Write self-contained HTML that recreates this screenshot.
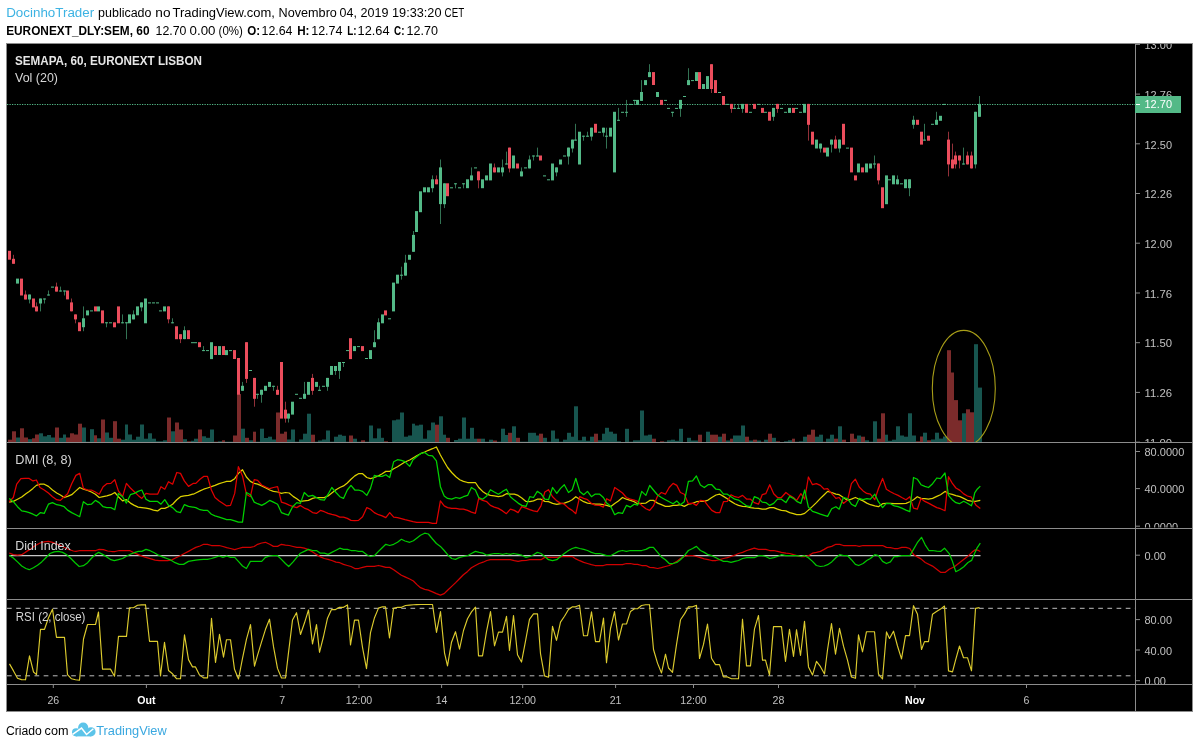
<!DOCTYPE html><html><head><meta charset="utf-8"><title>SEMAPA chart</title><style>html,body{margin:0;padding:0;background:#fff}svg{display:block}</style></head><body><svg width="1199" height="748" viewBox="0 0 1199 748" font-family='"Liberation Sans", Arial, sans-serif'>
<rect width="1199" height="748" fill="#fff"/>
<rect x="6.5" y="43.5" width="1186" height="668" fill="#000" stroke="#8c8c8c" stroke-width="1"/>
<defs><clipPath id="cm"><rect x="7" y="44" width="1128" height="398"/></clipPath><clipPath id="ca"><rect x="1136" y="44" width="56" height="398"/></clipPath><clipPath id="cd"><rect x="1136" y="443" width="56" height="84.6"/></clipPath><clipPath id="cr"><rect x="1136" y="600" width="56" height="84"/></clipPath><clipPath id="cp"><rect x="7" y="600" width="1128" height="84"/></clipPath></defs>
<g clip-path="url(#cm)">
<rect x="8.0" y="439.7" width="4.0" height="2.3" fill="#7b2b2b"/>
<rect x="12.0" y="431.3" width="4.0" height="10.7" fill="#7b2b2b"/>
<rect x="16.0" y="437.5" width="4.0" height="4.5" fill="#17554f"/>
<rect x="20.0" y="428.3" width="4.0" height="13.7" fill="#7b2b2b"/>
<rect x="24.0" y="437.5" width="4.0" height="4.5" fill="#7b2b2b"/>
<rect x="28.0" y="439.2" width="4.0" height="2.8" fill="#17554f"/>
<rect x="32.0" y="438.3" width="3.0" height="3.7" fill="#7b2b2b"/>
<rect x="35.0" y="434.5" width="4.0" height="7.5" fill="#7b2b2b"/>
<rect x="39.0" y="433.3" width="4.0" height="8.7" fill="#17554f"/>
<rect x="43.0" y="436.3" width="4.0" height="5.7" fill="#17554f"/>
<rect x="47.0" y="435.0" width="4.0" height="7.0" fill="#17554f"/>
<rect x="51.0" y="437.5" width="4.0" height="4.5" fill="#17554f"/>
<rect x="55.0" y="427.5" width="4.0" height="14.5" fill="#7b2b2b"/>
<rect x="59.0" y="437.8" width="4.0" height="4.2" fill="#17554f"/>
<rect x="63.0" y="434.5" width="3.0" height="7.5" fill="#17554f"/>
<rect x="66.0" y="437.5" width="4.0" height="4.5" fill="#7b2b2b"/>
<rect x="70.0" y="433.3" width="4.0" height="8.7" fill="#7b2b2b"/>
<rect x="74.0" y="434.5" width="4.0" height="7.5" fill="#7b2b2b"/>
<rect x="78.0" y="423.7" width="4.0" height="18.3" fill="#7b2b2b"/>
<rect x="82.0" y="427.5" width="4.0" height="14.5" fill="#17554f"/>
<rect x="86.0" y="441.7" width="4.0" height="0.3" fill="#17554f"/>
<rect x="90.0" y="429.2" width="4.0" height="12.8" fill="#17554f"/>
<rect x="94.0" y="435.3" width="3.0" height="6.7" fill="#7b2b2b"/>
<rect x="97.0" y="438.3" width="4.0" height="3.7" fill="#17554f"/>
<rect x="101.0" y="419.5" width="4.0" height="22.5" fill="#7b2b2b"/>
<rect x="105.0" y="432.5" width="4.0" height="9.5" fill="#17554f"/>
<rect x="109.0" y="437.8" width="4.0" height="4.2" fill="#17554f"/>
<rect x="113.0" y="421.2" width="4.0" height="20.8" fill="#7b2b2b"/>
<rect x="117.0" y="438.7" width="4.0" height="3.3" fill="#7b2b2b"/>
<rect x="121.0" y="439.7" width="4.0" height="2.3" fill="#17554f"/>
<rect x="125.0" y="424.5" width="3.0" height="17.5" fill="#17554f"/>
<rect x="128.0" y="434.5" width="4.0" height="7.5" fill="#17554f"/>
<rect x="132.0" y="439.7" width="4.0" height="2.3" fill="#17554f"/>
<rect x="136.0" y="436.7" width="4.0" height="5.3" fill="#17554f"/>
<rect x="140.0" y="424.5" width="4.0" height="17.5" fill="#17554f"/>
<rect x="144.0" y="438.7" width="4.0" height="3.3" fill="#17554f"/>
<rect x="148.0" y="433.3" width="4.0" height="8.7" fill="#17554f"/>
<rect x="152.0" y="438.7" width="4.0" height="3.3" fill="#17554f"/>
<rect x="156.0" y="441.3" width="3.0" height="0.7" fill="#17554f"/>
<rect x="159.0" y="441.3" width="4.0" height="0.7" fill="#17554f"/>
<rect x="163.0" y="440.3" width="4.0" height="1.7" fill="#17554f"/>
<rect x="167.0" y="417.5" width="4.0" height="24.5" fill="#7b2b2b"/>
<rect x="171.0" y="431.3" width="4.0" height="10.7" fill="#17554f"/>
<rect x="175.0" y="422.5" width="4.0" height="19.5" fill="#7b2b2b"/>
<rect x="179.0" y="429.5" width="4.0" height="12.5" fill="#7b2b2b"/>
<rect x="183.0" y="439.2" width="4.0" height="2.8" fill="#17554f"/>
<rect x="187.0" y="441.3" width="4.0" height="0.7" fill="#7b2b2b"/>
<rect x="191.0" y="440.8" width="3.0" height="1.2" fill="#17554f"/>
<rect x="194.0" y="438.7" width="4.0" height="3.3" fill="#17554f"/>
<rect x="198.0" y="429.5" width="4.0" height="12.5" fill="#7b2b2b"/>
<rect x="202.0" y="436.3" width="4.0" height="5.7" fill="#17554f"/>
<rect x="206.0" y="437.8" width="4.0" height="4.2" fill="#17554f"/>
<rect x="210.0" y="429.5" width="4.0" height="12.5" fill="#17554f"/>
<rect x="214.0" y="441.7" width="4.0" height="0.3" fill="#7b2b2b"/>
<rect x="218.0" y="441.3" width="4.0" height="0.7" fill="#17554f"/>
<rect x="222.0" y="440.3" width="3.0" height="1.7" fill="#7b2b2b"/>
<rect x="225.0" y="441.7" width="4.0" height="0.3" fill="#17554f"/>
<rect x="229.0" y="441.7" width="4.0" height="0.3" fill="#17554f"/>
<rect x="233.0" y="435.5" width="4.0" height="6.5" fill="#7b2b2b"/>
<rect x="237.0" y="394.0" width="4.0" height="48.0" fill="#7b2b2b"/>
<rect x="241.0" y="428.7" width="4.0" height="13.3" fill="#17554f"/>
<rect x="245.0" y="437.8" width="4.0" height="4.2" fill="#7b2b2b"/>
<rect x="249.0" y="440.3" width="4.0" height="1.7" fill="#17554f"/>
<rect x="253.0" y="431.7" width="3.0" height="10.3" fill="#7b2b2b"/>
<rect x="256.0" y="441.7" width="4.0" height="0.3" fill="#17554f"/>
<rect x="260.0" y="428.7" width="4.0" height="13.3" fill="#17554f"/>
<rect x="264.0" y="438.0" width="4.0" height="4.0" fill="#17554f"/>
<rect x="268.0" y="436.7" width="4.0" height="5.3" fill="#17554f"/>
<rect x="272.0" y="439.5" width="4.0" height="2.5" fill="#17554f"/>
<rect x="276.0" y="412.5" width="4.0" height="29.5" fill="#7b2b2b"/>
<rect x="280.0" y="433.7" width="4.0" height="8.3" fill="#7b2b2b"/>
<rect x="284.0" y="431.7" width="3.0" height="10.3" fill="#7b2b2b"/>
<rect x="287.0" y="439.5" width="4.0" height="2.5" fill="#17554f"/>
<rect x="291.0" y="429.5" width="4.0" height="12.5" fill="#17554f"/>
<rect x="295.0" y="441.7" width="4.0" height="0.3" fill="#17554f"/>
<rect x="299.0" y="439.5" width="4.0" height="2.5" fill="#17554f"/>
<rect x="303.0" y="433.7" width="4.0" height="8.3" fill="#17554f"/>
<rect x="307.0" y="413.7" width="4.0" height="28.3" fill="#17554f"/>
<rect x="311.0" y="434.7" width="4.0" height="7.3" fill="#7b2b2b"/>
<rect x="315.0" y="441.7" width="3.0" height="0.3" fill="#17554f"/>
<rect x="318.0" y="440.5" width="4.0" height="1.5" fill="#17554f"/>
<rect x="322.0" y="439.5" width="4.0" height="2.5" fill="#17554f"/>
<rect x="326.0" y="430.5" width="4.0" height="11.5" fill="#17554f"/>
<rect x="330.0" y="441.7" width="4.0" height="0.3" fill="#17554f"/>
<rect x="334.0" y="436.7" width="4.0" height="5.3" fill="#17554f"/>
<rect x="338.0" y="434.7" width="4.0" height="7.3" fill="#17554f"/>
<rect x="342.0" y="435.8" width="4.0" height="6.2" fill="#17554f"/>
<rect x="346.0" y="441.7" width="3.0" height="0.3" fill="#17554f"/>
<rect x="349.0" y="435.5" width="4.0" height="6.5" fill="#7b2b2b"/>
<rect x="353.0" y="438.7" width="4.0" height="3.3" fill="#17554f"/>
<rect x="357.0" y="441.7" width="4.0" height="0.3" fill="#17554f"/>
<rect x="361.0" y="440.3" width="4.0" height="1.7" fill="#7b2b2b"/>
<rect x="365.0" y="441.7" width="4.0" height="0.3" fill="#17554f"/>
<rect x="369.0" y="425.5" width="4.0" height="16.5" fill="#17554f"/>
<rect x="373.0" y="438.3" width="4.0" height="3.7" fill="#17554f"/>
<rect x="377.0" y="428.5" width="4.0" height="13.5" fill="#17554f"/>
<rect x="381.0" y="437.8" width="3.0" height="4.2" fill="#17554f"/>
<rect x="384.0" y="441.3" width="4.0" height="0.7" fill="#7b2b2b"/>
<rect x="392.0" y="420.3" width="4.0" height="21.7" fill="#17554f"/>
<rect x="396.0" y="419.5" width="4.0" height="22.5" fill="#17554f"/>
<rect x="400.0" y="412.5" width="4.0" height="29.5" fill="#17554f"/>
<rect x="404.0" y="436.7" width="4.0" height="5.3" fill="#17554f"/>
<rect x="408.0" y="435.5" width="4.0" height="6.5" fill="#17554f"/>
<rect x="412.0" y="423.7" width="3.0" height="18.3" fill="#17554f"/>
<rect x="415.0" y="425.5" width="4.0" height="16.5" fill="#17554f"/>
<rect x="419.0" y="424.7" width="4.0" height="17.3" fill="#17554f"/>
<rect x="423.0" y="438.7" width="4.0" height="3.3" fill="#17554f"/>
<rect x="427.0" y="430.3" width="4.0" height="11.7" fill="#17554f"/>
<rect x="431.0" y="422.5" width="4.0" height="19.5" fill="#17554f"/>
<rect x="435.0" y="424.7" width="4.0" height="17.3" fill="#7b2b2b"/>
<rect x="439.0" y="416.3" width="4.0" height="25.7" fill="#17554f"/>
<rect x="443.0" y="434.7" width="3.0" height="7.3" fill="#17554f"/>
<rect x="446.0" y="437.8" width="4.0" height="4.2" fill="#7b2b2b"/>
<rect x="454.0" y="440.0" width="4.0" height="2.0" fill="#17554f"/>
<rect x="458.0" y="438.7" width="4.0" height="3.3" fill="#17554f"/>
<rect x="462.0" y="417.5" width="4.0" height="24.5" fill="#17554f"/>
<rect x="466.0" y="438.7" width="4.0" height="3.3" fill="#17554f"/>
<rect x="470.0" y="427.8" width="4.0" height="14.2" fill="#17554f"/>
<rect x="474.0" y="438.7" width="3.0" height="3.3" fill="#17554f"/>
<rect x="477.0" y="438.7" width="4.0" height="3.3" fill="#7b2b2b"/>
<rect x="481.0" y="438.7" width="4.0" height="3.3" fill="#17554f"/>
<rect x="485.0" y="441.7" width="4.0" height="0.3" fill="#17554f"/>
<rect x="489.0" y="439.7" width="4.0" height="2.3" fill="#17554f"/>
<rect x="493.0" y="440.5" width="4.0" height="1.5" fill="#7b2b2b"/>
<rect x="497.0" y="441.7" width="4.0" height="0.3" fill="#17554f"/>
<rect x="501.0" y="428.7" width="4.0" height="13.3" fill="#17554f"/>
<rect x="505.0" y="435.0" width="3.0" height="7.0" fill="#17554f"/>
<rect x="508.0" y="432.8" width="4.0" height="9.2" fill="#7b2b2b"/>
<rect x="512.0" y="426.3" width="4.0" height="15.7" fill="#17554f"/>
<rect x="516.0" y="437.8" width="4.0" height="4.2" fill="#7b2b2b"/>
<rect x="520.0" y="441.7" width="4.0" height="0.3" fill="#17554f"/>
<rect x="524.0" y="441.7" width="4.0" height="0.3" fill="#17554f"/>
<rect x="528.0" y="432.8" width="4.0" height="9.2" fill="#17554f"/>
<rect x="532.0" y="432.8" width="4.0" height="9.2" fill="#17554f"/>
<rect x="536.0" y="435.5" width="3.0" height="6.5" fill="#17554f"/>
<rect x="539.0" y="433.7" width="4.0" height="8.3" fill="#7b2b2b"/>
<rect x="543.0" y="437.8" width="4.0" height="4.2" fill="#17554f"/>
<rect x="547.0" y="441.7" width="4.0" height="0.3" fill="#17554f"/>
<rect x="551.0" y="430.5" width="4.0" height="11.5" fill="#17554f"/>
<rect x="555.0" y="438.7" width="4.0" height="3.3" fill="#17554f"/>
<rect x="559.0" y="441.7" width="4.0" height="0.3" fill="#17554f"/>
<rect x="563.0" y="439.7" width="4.0" height="2.3" fill="#17554f"/>
<rect x="567.0" y="432.8" width="4.0" height="9.2" fill="#17554f"/>
<rect x="571.0" y="436.7" width="3.0" height="5.3" fill="#17554f"/>
<rect x="574.0" y="406.3" width="4.0" height="35.7" fill="#17554f"/>
<rect x="578.0" y="440.3" width="4.0" height="1.7" fill="#17554f"/>
<rect x="582.0" y="436.7" width="4.0" height="5.3" fill="#17554f"/>
<rect x="586.0" y="440.8" width="4.0" height="1.2" fill="#17554f"/>
<rect x="590.0" y="436.7" width="4.0" height="5.3" fill="#17554f"/>
<rect x="594.0" y="433.7" width="4.0" height="8.3" fill="#7b2b2b"/>
<rect x="598.0" y="440.3" width="4.0" height="1.7" fill="#17554f"/>
<rect x="602.0" y="433.7" width="3.0" height="8.3" fill="#17554f"/>
<rect x="605.0" y="427.8" width="4.0" height="14.2" fill="#17554f"/>
<rect x="609.0" y="431.7" width="4.0" height="10.3" fill="#17554f"/>
<rect x="613.0" y="433.7" width="4.0" height="8.3" fill="#17554f"/>
<rect x="617.0" y="441.3" width="4.0" height="0.7" fill="#17554f"/>
<rect x="625.0" y="428.8" width="4.0" height="13.2" fill="#17554f"/>
<rect x="629.0" y="441.7" width="4.0" height="0.3" fill="#17554f"/>
<rect x="633.0" y="440.3" width="3.0" height="1.7" fill="#17554f"/>
<rect x="636.0" y="440.3" width="4.0" height="1.7" fill="#17554f"/>
<rect x="640.0" y="410.5" width="4.0" height="31.5" fill="#17554f"/>
<rect x="644.0" y="435.5" width="4.0" height="6.5" fill="#17554f"/>
<rect x="648.0" y="434.7" width="4.0" height="7.3" fill="#17554f"/>
<rect x="652.0" y="438.7" width="4.0" height="3.3" fill="#7b2b2b"/>
<rect x="660.0" y="441.3" width="4.0" height="0.7" fill="#7b2b2b"/>
<rect x="664.0" y="441.7" width="3.0" height="0.3" fill="#17554f"/>
<rect x="667.0" y="440.3" width="4.0" height="1.7" fill="#17554f"/>
<rect x="671.0" y="439.7" width="4.0" height="2.3" fill="#17554f"/>
<rect x="675.0" y="440.8" width="4.0" height="1.2" fill="#17554f"/>
<rect x="679.0" y="428.8" width="4.0" height="13.2" fill="#17554f"/>
<rect x="687.0" y="437.8" width="4.0" height="4.2" fill="#17554f"/>
<rect x="691.0" y="440.5" width="4.0" height="1.5" fill="#17554f"/>
<rect x="695.0" y="440.5" width="3.0" height="1.5" fill="#17554f"/>
<rect x="698.0" y="434.7" width="4.0" height="7.3" fill="#7b2b2b"/>
<rect x="706.0" y="431.7" width="4.0" height="10.3" fill="#17554f"/>
<rect x="710.0" y="434.7" width="4.0" height="7.3" fill="#7b2b2b"/>
<rect x="714.0" y="434.7" width="4.0" height="7.3" fill="#7b2b2b"/>
<rect x="718.0" y="436.7" width="4.0" height="5.3" fill="#17554f"/>
<rect x="722.0" y="433.7" width="4.0" height="8.3" fill="#7b2b2b"/>
<rect x="726.0" y="440.5" width="4.0" height="1.5" fill="#17554f"/>
<rect x="730.0" y="438.7" width="3.0" height="3.3" fill="#7b2b2b"/>
<rect x="733.0" y="435.5" width="4.0" height="6.5" fill="#17554f"/>
<rect x="737.0" y="435.5" width="4.0" height="6.5" fill="#17554f"/>
<rect x="741.0" y="425.5" width="4.0" height="16.5" fill="#17554f"/>
<rect x="745.0" y="436.7" width="4.0" height="5.3" fill="#7b2b2b"/>
<rect x="749.0" y="440.5" width="4.0" height="1.5" fill="#17554f"/>
<rect x="753.0" y="439.7" width="4.0" height="2.3" fill="#7b2b2b"/>
<rect x="757.0" y="440.5" width="4.0" height="1.5" fill="#17554f"/>
<rect x="761.0" y="441.7" width="3.0" height="0.3" fill="#7b2b2b"/>
<rect x="764.0" y="439.7" width="4.0" height="2.3" fill="#17554f"/>
<rect x="768.0" y="433.7" width="4.0" height="8.3" fill="#7b2b2b"/>
<rect x="772.0" y="437.8" width="4.0" height="4.2" fill="#17554f"/>
<rect x="776.0" y="441.3" width="4.0" height="0.7" fill="#7b2b2b"/>
<rect x="784.0" y="441.3" width="4.0" height="0.7" fill="#17554f"/>
<rect x="788.0" y="440.3" width="4.0" height="1.7" fill="#17554f"/>
<rect x="792.0" y="438.7" width="3.0" height="3.3" fill="#7b2b2b"/>
<rect x="795.0" y="441.7" width="4.0" height="0.3" fill="#17554f"/>
<rect x="799.0" y="441.3" width="4.0" height="0.7" fill="#17554f"/>
<rect x="803.0" y="436.7" width="4.0" height="5.3" fill="#17554f"/>
<rect x="807.0" y="434.7" width="4.0" height="7.3" fill="#7b2b2b"/>
<rect x="811.0" y="429.7" width="4.0" height="12.3" fill="#7b2b2b"/>
<rect x="815.0" y="436.7" width="4.0" height="5.3" fill="#17554f"/>
<rect x="819.0" y="434.7" width="4.0" height="7.3" fill="#17554f"/>
<rect x="823.0" y="441.7" width="3.0" height="0.3" fill="#7b2b2b"/>
<rect x="826.0" y="438.7" width="4.0" height="3.3" fill="#17554f"/>
<rect x="830.0" y="434.7" width="4.0" height="7.3" fill="#17554f"/>
<rect x="834.0" y="438.7" width="4.0" height="3.3" fill="#7b2b2b"/>
<rect x="838.0" y="426.3" width="4.0" height="15.7" fill="#17554f"/>
<rect x="842.0" y="439.7" width="4.0" height="2.3" fill="#7b2b2b"/>
<rect x="850.0" y="433.7" width="4.0" height="8.3" fill="#7b2b2b"/>
<rect x="854.0" y="438.7" width="3.0" height="3.3" fill="#7b2b2b"/>
<rect x="857.0" y="435.5" width="4.0" height="6.5" fill="#17554f"/>
<rect x="861.0" y="436.7" width="4.0" height="5.3" fill="#7b2b2b"/>
<rect x="865.0" y="440.3" width="4.0" height="1.7" fill="#17554f"/>
<rect x="869.0" y="441.7" width="4.0" height="0.3" fill="#17554f"/>
<rect x="873.0" y="421.3" width="4.0" height="20.7" fill="#17554f"/>
<rect x="877.0" y="438.7" width="4.0" height="3.3" fill="#7b2b2b"/>
<rect x="881.0" y="413.3" width="4.0" height="28.7" fill="#7b2b2b"/>
<rect x="885.0" y="434.7" width="3.0" height="7.3" fill="#17554f"/>
<rect x="888.0" y="440.8" width="4.0" height="1.2" fill="#17554f"/>
<rect x="892.0" y="439.7" width="4.0" height="2.3" fill="#17554f"/>
<rect x="896.0" y="426.3" width="4.0" height="15.7" fill="#17554f"/>
<rect x="900.0" y="435.5" width="4.0" height="6.5" fill="#17554f"/>
<rect x="904.0" y="436.7" width="4.0" height="5.3" fill="#17554f"/>
<rect x="908.0" y="413.3" width="4.0" height="28.7" fill="#17554f"/>
<rect x="912.0" y="435.5" width="4.0" height="6.5" fill="#17554f"/>
<rect x="916.0" y="441.3" width="4.0" height="0.7" fill="#7b2b2b"/>
<rect x="920.0" y="436.5" width="3.0" height="5.5" fill="#7b2b2b"/>
<rect x="923.0" y="432.7" width="4.0" height="9.3" fill="#17554f"/>
<rect x="927.0" y="440.3" width="4.0" height="1.7" fill="#7b2b2b"/>
<rect x="931.0" y="439.5" width="4.0" height="2.5" fill="#17554f"/>
<rect x="935.0" y="432.7" width="4.0" height="9.3" fill="#17554f"/>
<rect x="939.0" y="438.6" width="4.0" height="3.4" fill="#17554f"/>
<rect x="943.0" y="436.5" width="4.0" height="5.5" fill="#17554f"/>
<rect x="947.0" y="350.2" width="4.0" height="91.8" fill="#7b2b2b"/>
<rect x="951.0" y="372.5" width="3.0" height="69.5" fill="#7b2b2b"/>
<rect x="954.0" y="400.1" width="4.0" height="41.9" fill="#7b2b2b"/>
<rect x="958.0" y="420.3" width="4.0" height="21.7" fill="#7b2b2b"/>
<rect x="962.0" y="413.3" width="4.0" height="28.7" fill="#17554f"/>
<rect x="966.0" y="409.3" width="4.0" height="32.7" fill="#7b2b2b"/>
<rect x="970.0" y="412.3" width="4.0" height="29.7" fill="#7b2b2b"/>
<rect x="974.0" y="344.2" width="4.0" height="97.8" fill="#17554f"/>
<rect x="978.0" y="387.6" width="4.0" height="54.4" fill="#17554f"/>
</g>
<line x1="7" y1="104.5" x2="1135" y2="104.5" stroke="#53b987" stroke-width="1" stroke-dasharray="1.25 1.25"/>
<g clip-path="url(#cm)">
<rect x="8.0" y="250.8" width="3" height="8.9" fill="#eb4d5c"/>
<rect x="13.0" y="254.8" width="1" height="8.9" fill="#eb4d5c" opacity="0.62"/>
<rect x="12.0" y="258.8" width="3" height="5.0" fill="#eb4d5c"/>
<rect x="16.0" y="278.6" width="3" height="5.0" fill="#53b987"/>
<rect x="20.0" y="278.6" width="3" height="16.9" fill="#eb4d5c"/>
<rect x="25.0" y="290.5" width="1" height="8.9" fill="#eb4d5c" opacity="0.62"/>
<rect x="24.0" y="294.5" width="3" height="5.0" fill="#eb4d5c"/>
<rect x="29.0" y="294.5" width="1" height="8.9" fill="#53b987" opacity="0.62"/>
<rect x="28.0" y="294.5" width="3" height="5.0" fill="#53b987"/>
<rect x="32.0" y="298.5" width="3" height="8.9" fill="#eb4d5c"/>
<rect x="36.0" y="302.4" width="1" height="8.9" fill="#eb4d5c" opacity="0.62"/>
<rect x="35.0" y="306.4" width="3" height="5.0" fill="#eb4d5c"/>
<rect x="40.0" y="298.5" width="1" height="12.9" fill="#53b987" opacity="0.62"/>
<rect x="39.0" y="298.5" width="3" height="5.0" fill="#53b987"/>
<rect x="44.0" y="298.5" width="1" height="5.0" fill="#53b987" opacity="0.62"/>
<rect x="43.0" y="298.5" width="3" height="1.0" fill="#53b987"/>
<rect x="48.0" y="290.5" width="1" height="5.0" fill="#53b987" opacity="0.62"/>
<rect x="47.0" y="294.5" width="3" height="1.0" fill="#53b987"/>
<rect x="51.0" y="286.6" width="3" height="1.0" fill="#53b987"/>
<rect x="56.0" y="282.6" width="1" height="8.9" fill="#eb4d5c" opacity="0.62"/>
<rect x="55.0" y="286.6" width="3" height="5.0" fill="#eb4d5c"/>
<rect x="60.0" y="286.6" width="1" height="5.0" fill="#53b987" opacity="0.62"/>
<rect x="59.0" y="290.5" width="3" height="1.0" fill="#53b987"/>
<rect x="64.0" y="290.5" width="1" height="5.0" fill="#53b987" opacity="0.62"/>
<rect x="63.0" y="290.5" width="3" height="1.0" fill="#53b987"/>
<rect x="66.0" y="290.5" width="3" height="8.9" fill="#eb4d5c"/>
<rect x="71.0" y="298.5" width="1" height="12.9" fill="#eb4d5c" opacity="0.62"/>
<rect x="70.0" y="302.4" width="3" height="8.9" fill="#eb4d5c"/>
<rect x="75.0" y="314.4" width="1" height="8.9" fill="#eb4d5c" opacity="0.62"/>
<rect x="74.0" y="314.4" width="3" height="5.0" fill="#eb4d5c"/>
<rect x="78.0" y="322.3" width="3" height="8.9" fill="#eb4d5c"/>
<rect x="83.0" y="306.4" width="1" height="24.8" fill="#53b987" opacity="0.62"/>
<rect x="82.0" y="318.3" width="3" height="8.9" fill="#53b987"/>
<rect x="86.0" y="310.4" width="3" height="5.0" fill="#53b987"/>
<rect x="90.0" y="310.4" width="3" height="1.0" fill="#53b987"/>
<rect x="94.0" y="306.4" width="3" height="5.0" fill="#eb4d5c"/>
<rect x="97.0" y="306.4" width="3" height="5.0" fill="#53b987"/>
<rect x="101.0" y="310.4" width="3" height="12.9" fill="#eb4d5c"/>
<rect x="106.0" y="322.3" width="1" height="5.0" fill="#53b987" opacity="0.62"/>
<rect x="105.0" y="322.3" width="3" height="1.0" fill="#53b987"/>
<rect x="109.0" y="322.3" width="3" height="1.0" fill="#53b987"/>
<rect x="113.0" y="322.3" width="3" height="5.0" fill="#eb4d5c"/>
<rect x="117.0" y="306.4" width="3" height="16.9" fill="#eb4d5c"/>
<rect x="122.0" y="314.4" width="1" height="8.9" fill="#53b987" opacity="0.62"/>
<rect x="121.0" y="322.3" width="3" height="1.0" fill="#53b987"/>
<rect x="126.0" y="322.3" width="1" height="16.9" fill="#53b987" opacity="0.62"/>
<rect x="125.0" y="322.3" width="3" height="1.0" fill="#53b987"/>
<rect x="128.0" y="314.4" width="3" height="8.9" fill="#53b987"/>
<rect x="133.0" y="310.4" width="1" height="8.9" fill="#53b987" opacity="0.62"/>
<rect x="132.0" y="314.4" width="3" height="5.0" fill="#53b987"/>
<rect x="136.0" y="306.4" width="3" height="8.9" fill="#53b987"/>
<rect x="141.0" y="302.4" width="1" height="8.9" fill="#53b987" opacity="0.62"/>
<rect x="140.0" y="302.4" width="3" height="5.0" fill="#53b987"/>
<rect x="144.0" y="298.5" width="3" height="24.8" fill="#53b987"/>
<rect x="148.0" y="302.4" width="3" height="1.0" fill="#53b987"/>
<rect x="152.0" y="302.4" width="3" height="1.0" fill="#53b987"/>
<rect x="156.0" y="302.4" width="3" height="1.0" fill="#53b987"/>
<rect x="159.0" y="310.4" width="3" height="1.0" fill="#53b987"/>
<rect x="163.0" y="306.4" width="3" height="5.0" fill="#53b987"/>
<rect x="168.0" y="306.4" width="1" height="16.9" fill="#eb4d5c" opacity="0.62"/>
<rect x="167.0" y="306.4" width="3" height="12.9" fill="#eb4d5c"/>
<rect x="172.0" y="318.3" width="1" height="5.0" fill="#53b987" opacity="0.62"/>
<rect x="171.0" y="322.3" width="3" height="1.0" fill="#53b987"/>
<rect x="175.0" y="326.3" width="3" height="12.9" fill="#eb4d5c"/>
<rect x="180.0" y="334.2" width="1" height="8.9" fill="#eb4d5c" opacity="0.62"/>
<rect x="179.0" y="334.2" width="3" height="5.0" fill="#eb4d5c"/>
<rect x="184.0" y="326.3" width="1" height="12.9" fill="#53b987" opacity="0.62"/>
<rect x="183.0" y="330.2" width="3" height="8.9" fill="#53b987"/>
<rect x="187.0" y="330.2" width="3" height="8.9" fill="#eb4d5c"/>
<rect x="191.0" y="342.2" width="3" height="1.0" fill="#53b987"/>
<rect x="194.0" y="342.2" width="3" height="1.0" fill="#53b987"/>
<rect x="198.0" y="342.2" width="3" height="5.0" fill="#eb4d5c"/>
<rect x="203.0" y="346.1" width="1" height="5.0" fill="#53b987" opacity="0.62"/>
<rect x="202.0" y="350.1" width="3" height="1.0" fill="#53b987"/>
<rect x="206.0" y="350.1" width="3" height="1.0" fill="#53b987"/>
<rect x="210.0" y="342.2" width="3" height="16.9" fill="#53b987"/>
<rect x="214.0" y="346.1" width="3" height="8.9" fill="#eb4d5c"/>
<rect x="218.0" y="346.1" width="3" height="8.9" fill="#53b987"/>
<rect x="222.0" y="346.1" width="3" height="8.9" fill="#eb4d5c"/>
<rect x="225.0" y="350.1" width="3" height="5.0" fill="#53b987"/>
<rect x="229.0" y="350.1" width="3" height="1.0" fill="#53b987"/>
<rect x="233.0" y="350.1" width="3" height="8.9" fill="#eb4d5c"/>
<rect x="237.0" y="358.0" width="3" height="36.7" fill="#eb4d5c"/>
<rect x="242.0" y="381.9" width="1" height="8.9" fill="#53b987" opacity="0.62"/>
<rect x="241.0" y="385.8" width="3" height="5.0" fill="#53b987"/>
<rect x="246.0" y="342.2" width="1" height="40.7" fill="#eb4d5c" opacity="0.62"/>
<rect x="245.0" y="342.2" width="3" height="36.7" fill="#eb4d5c"/>
<rect x="249.0" y="370.0" width="3" height="1.0" fill="#53b987"/>
<rect x="254.0" y="377.9" width="1" height="28.8" fill="#eb4d5c" opacity="0.62"/>
<rect x="253.0" y="377.9" width="3" height="20.9" fill="#eb4d5c"/>
<rect x="257.0" y="393.8" width="1" height="5.0" fill="#53b987" opacity="0.62"/>
<rect x="256.0" y="393.8" width="3" height="1.0" fill="#53b987"/>
<rect x="261.0" y="389.8" width="1" height="12.9" fill="#53b987" opacity="0.62"/>
<rect x="260.0" y="389.8" width="3" height="5.0" fill="#53b987"/>
<rect x="264.0" y="385.8" width="3" height="5.0" fill="#53b987"/>
<rect x="268.0" y="381.9" width="3" height="5.0" fill="#53b987"/>
<rect x="273.0" y="385.8" width="1" height="5.0" fill="#53b987" opacity="0.62"/>
<rect x="272.0" y="385.8" width="3" height="1.0" fill="#53b987"/>
<rect x="277.0" y="385.8" width="1" height="8.9" fill="#eb4d5c" opacity="0.62"/>
<rect x="276.0" y="389.8" width="3" height="5.0" fill="#eb4d5c"/>
<rect x="280.0" y="362.0" width="3" height="56.6" fill="#eb4d5c"/>
<rect x="285.0" y="401.7" width="1" height="20.9" fill="#eb4d5c" opacity="0.62"/>
<rect x="284.0" y="409.7" width="3" height="8.9" fill="#eb4d5c"/>
<rect x="288.0" y="413.6" width="1" height="8.9" fill="#53b987" opacity="0.62"/>
<rect x="287.0" y="413.6" width="3" height="5.0" fill="#53b987"/>
<rect x="291.0" y="401.7" width="3" height="12.9" fill="#53b987"/>
<rect x="295.0" y="393.8" width="3" height="1.0" fill="#53b987"/>
<rect x="299.0" y="397.8" width="3" height="1.0" fill="#53b987"/>
<rect x="304.0" y="381.9" width="1" height="16.9" fill="#53b987" opacity="0.62"/>
<rect x="303.0" y="393.8" width="3" height="5.0" fill="#53b987"/>
<rect x="307.0" y="381.9" width="3" height="12.9" fill="#53b987"/>
<rect x="312.0" y="373.9" width="1" height="20.9" fill="#eb4d5c" opacity="0.62"/>
<rect x="311.0" y="377.9" width="3" height="12.9" fill="#eb4d5c"/>
<rect x="315.0" y="381.9" width="3" height="5.0" fill="#53b987"/>
<rect x="319.0" y="385.8" width="1" height="5.0" fill="#53b987" opacity="0.62"/>
<rect x="318.0" y="389.8" width="3" height="1.0" fill="#53b987"/>
<rect x="322.0" y="385.8" width="3" height="1.0" fill="#53b987"/>
<rect x="327.0" y="377.9" width="1" height="12.9" fill="#53b987" opacity="0.62"/>
<rect x="326.0" y="377.9" width="3" height="8.9" fill="#53b987"/>
<rect x="330.0" y="366.0" width="3" height="8.9" fill="#53b987"/>
<rect x="335.0" y="366.0" width="1" height="8.9" fill="#53b987" opacity="0.62"/>
<rect x="334.0" y="366.0" width="3" height="5.0" fill="#53b987"/>
<rect x="339.0" y="362.0" width="1" height="16.9" fill="#53b987" opacity="0.62"/>
<rect x="338.0" y="362.0" width="3" height="8.9" fill="#53b987"/>
<rect x="343.0" y="362.0" width="1" height="5.0" fill="#53b987" opacity="0.62"/>
<rect x="342.0" y="362.0" width="3" height="1.0" fill="#53b987"/>
<rect x="346.0" y="350.1" width="3" height="1.0" fill="#53b987"/>
<rect x="349.0" y="338.2" width="3" height="20.9" fill="#eb4d5c"/>
<rect x="353.0" y="346.1" width="3" height="5.0" fill="#53b987"/>
<rect x="357.0" y="346.1" width="3" height="1.0" fill="#53b987"/>
<rect x="361.0" y="346.1" width="3" height="5.0" fill="#eb4d5c"/>
<rect x="365.0" y="358.0" width="3" height="1.0" fill="#53b987"/>
<rect x="369.0" y="350.1" width="3" height="8.9" fill="#53b987"/>
<rect x="374.0" y="330.2" width="1" height="16.9" fill="#53b987" opacity="0.62"/>
<rect x="373.0" y="342.2" width="3" height="5.0" fill="#53b987"/>
<rect x="378.0" y="318.3" width="1" height="20.9" fill="#53b987" opacity="0.62"/>
<rect x="377.0" y="322.3" width="3" height="16.9" fill="#53b987"/>
<rect x="381.0" y="314.4" width="3" height="8.9" fill="#53b987"/>
<rect x="384.0" y="310.4" width="3" height="5.0" fill="#eb4d5c"/>
<rect x="388.0" y="318.3" width="3" height="1.0" fill="#53b987"/>
<rect x="392.0" y="282.6" width="3" height="28.8" fill="#53b987"/>
<rect x="396.0" y="274.7" width="3" height="8.9" fill="#53b987"/>
<rect x="401.0" y="266.7" width="1" height="12.9" fill="#53b987" opacity="0.62"/>
<rect x="400.0" y="274.7" width="3" height="1.0" fill="#53b987"/>
<rect x="405.0" y="254.8" width="1" height="20.9" fill="#53b987" opacity="0.62"/>
<rect x="404.0" y="262.7" width="3" height="12.9" fill="#53b987"/>
<rect x="408.0" y="254.8" width="3" height="5.0" fill="#53b987"/>
<rect x="413.0" y="231.0" width="1" height="20.9" fill="#53b987" opacity="0.62"/>
<rect x="412.0" y="234.9" width="3" height="16.9" fill="#53b987"/>
<rect x="415.0" y="211.1" width="3" height="20.9" fill="#53b987"/>
<rect x="419.0" y="191.3" width="3" height="20.9" fill="#53b987"/>
<rect x="423.0" y="187.3" width="3" height="5.0" fill="#53b987"/>
<rect x="427.0" y="187.3" width="3" height="5.0" fill="#53b987"/>
<rect x="432.0" y="175.4" width="1" height="16.9" fill="#53b987" opacity="0.62"/>
<rect x="431.0" y="179.3" width="3" height="8.9" fill="#53b987"/>
<rect x="436.0" y="175.4" width="1" height="8.9" fill="#eb4d5c" opacity="0.62"/>
<rect x="435.0" y="179.3" width="3" height="5.0" fill="#eb4d5c"/>
<rect x="440.0" y="159.5" width="1" height="64.5" fill="#53b987" opacity="0.62"/>
<rect x="439.0" y="167.4" width="3" height="36.7" fill="#53b987"/>
<rect x="444.0" y="183.3" width="1" height="24.8" fill="#53b987" opacity="0.62"/>
<rect x="443.0" y="183.3" width="3" height="20.9" fill="#53b987"/>
<rect x="446.0" y="183.3" width="3" height="12.9" fill="#eb4d5c"/>
<rect x="450.0" y="187.3" width="3" height="1.0" fill="#53b987"/>
<rect x="455.0" y="183.3" width="1" height="5.0" fill="#53b987" opacity="0.62"/>
<rect x="454.0" y="183.3" width="3" height="1.0" fill="#53b987"/>
<rect x="458.0" y="187.3" width="3" height="1.0" fill="#53b987"/>
<rect x="463.0" y="183.3" width="1" height="5.0" fill="#53b987" opacity="0.62"/>
<rect x="462.0" y="183.3" width="3" height="1.0" fill="#53b987"/>
<rect x="466.0" y="179.3" width="3" height="8.9" fill="#53b987"/>
<rect x="471.0" y="167.4" width="1" height="12.9" fill="#53b987" opacity="0.62"/>
<rect x="470.0" y="175.4" width="3" height="5.0" fill="#53b987"/>
<rect x="474.0" y="167.4" width="3" height="1.0" fill="#53b987"/>
<rect x="478.0" y="171.4" width="1" height="16.9" fill="#eb4d5c" opacity="0.62"/>
<rect x="477.0" y="171.4" width="3" height="8.9" fill="#eb4d5c"/>
<rect x="481.0" y="179.3" width="3" height="8.9" fill="#53b987"/>
<rect x="485.0" y="175.4" width="3" height="5.0" fill="#53b987"/>
<rect x="489.0" y="163.5" width="3" height="16.9" fill="#53b987"/>
<rect x="494.0" y="163.5" width="1" height="8.9" fill="#eb4d5c" opacity="0.62"/>
<rect x="493.0" y="167.4" width="3" height="5.0" fill="#eb4d5c"/>
<rect x="497.0" y="167.4" width="3" height="5.0" fill="#53b987"/>
<rect x="502.0" y="159.5" width="1" height="16.9" fill="#53b987" opacity="0.62"/>
<rect x="501.0" y="167.4" width="3" height="5.0" fill="#53b987"/>
<rect x="506.0" y="151.6" width="1" height="12.9" fill="#53b987" opacity="0.62"/>
<rect x="505.0" y="163.5" width="3" height="1.0" fill="#53b987"/>
<rect x="509.0" y="147.6" width="1" height="24.8" fill="#eb4d5c" opacity="0.62"/>
<rect x="508.0" y="147.6" width="3" height="20.9" fill="#eb4d5c"/>
<rect x="512.0" y="155.5" width="3" height="12.9" fill="#53b987"/>
<rect x="516.0" y="163.5" width="3" height="5.0" fill="#eb4d5c"/>
<rect x="521.0" y="167.4" width="1" height="8.9" fill="#53b987" opacity="0.62"/>
<rect x="520.0" y="171.4" width="3" height="5.0" fill="#53b987"/>
<rect x="524.0" y="167.4" width="3" height="1.0" fill="#53b987"/>
<rect x="529.0" y="155.5" width="1" height="12.9" fill="#53b987" opacity="0.62"/>
<rect x="528.0" y="159.5" width="3" height="8.9" fill="#53b987"/>
<rect x="533.0" y="155.5" width="1" height="5.0" fill="#53b987" opacity="0.62"/>
<rect x="532.0" y="155.5" width="3" height="1.0" fill="#53b987"/>
<rect x="537.0" y="147.6" width="1" height="8.9" fill="#53b987" opacity="0.62"/>
<rect x="536.0" y="155.5" width="3" height="1.0" fill="#53b987"/>
<rect x="539.0" y="155.5" width="3" height="5.0" fill="#eb4d5c"/>
<rect x="543.0" y="175.4" width="3" height="1.0" fill="#53b987"/>
<rect x="547.0" y="179.3" width="3" height="1.0" fill="#53b987"/>
<rect x="551.0" y="163.5" width="3" height="16.9" fill="#53b987"/>
<rect x="556.0" y="167.4" width="1" height="8.9" fill="#53b987" opacity="0.62"/>
<rect x="555.0" y="167.4" width="3" height="5.0" fill="#53b987"/>
<rect x="559.0" y="159.5" width="3" height="5.0" fill="#53b987"/>
<rect x="563.0" y="155.5" width="3" height="1.0" fill="#53b987"/>
<rect x="568.0" y="147.6" width="1" height="16.9" fill="#53b987" opacity="0.62"/>
<rect x="567.0" y="147.6" width="3" height="8.9" fill="#53b987"/>
<rect x="572.0" y="139.6" width="1" height="12.9" fill="#53b987" opacity="0.62"/>
<rect x="571.0" y="139.6" width="3" height="8.9" fill="#53b987"/>
<rect x="575.0" y="123.8" width="1" height="16.9" fill="#53b987" opacity="0.62"/>
<rect x="574.0" y="139.6" width="3" height="1.0" fill="#53b987"/>
<rect x="578.0" y="131.7" width="3" height="32.8" fill="#53b987"/>
<rect x="583.0" y="135.7" width="1" height="5.0" fill="#53b987" opacity="0.62"/>
<rect x="582.0" y="135.7" width="3" height="1.0" fill="#53b987"/>
<rect x="587.0" y="131.7" width="1" height="5.0" fill="#53b987" opacity="0.62"/>
<rect x="586.0" y="135.7" width="3" height="1.0" fill="#53b987"/>
<rect x="591.0" y="127.7" width="1" height="12.9" fill="#53b987" opacity="0.62"/>
<rect x="590.0" y="127.7" width="3" height="8.9" fill="#53b987"/>
<rect x="594.0" y="123.8" width="3" height="8.9" fill="#eb4d5c"/>
<rect x="598.0" y="131.7" width="3" height="1.0" fill="#53b987"/>
<rect x="603.0" y="127.7" width="1" height="8.9" fill="#53b987" opacity="0.62"/>
<rect x="602.0" y="127.7" width="3" height="5.0" fill="#53b987"/>
<rect x="606.0" y="127.7" width="1" height="20.9" fill="#53b987" opacity="0.62"/>
<rect x="605.0" y="135.7" width="3" height="1.0" fill="#53b987"/>
<rect x="609.0" y="127.7" width="3" height="8.9" fill="#53b987"/>
<rect x="613.0" y="111.8" width="3" height="60.6" fill="#53b987"/>
<rect x="618.0" y="107.9" width="1" height="12.9" fill="#53b987" opacity="0.62"/>
<rect x="617.0" y="119.8" width="3" height="1.0" fill="#53b987"/>
<rect x="621.0" y="111.8" width="3" height="1.0" fill="#53b987"/>
<rect x="626.0" y="99.9" width="1" height="16.9" fill="#53b987" opacity="0.62"/>
<rect x="625.0" y="111.8" width="3" height="1.0" fill="#53b987"/>
<rect x="629.0" y="103.9" width="3" height="1.0" fill="#53b987"/>
<rect x="634.0" y="99.9" width="1" height="5.0" fill="#53b987" opacity="0.62"/>
<rect x="633.0" y="99.9" width="3" height="1.0" fill="#53b987"/>
<rect x="636.0" y="99.9" width="3" height="5.0" fill="#53b987"/>
<rect x="641.0" y="80.1" width="1" height="20.9" fill="#53b987" opacity="0.62"/>
<rect x="640.0" y="92.0" width="3" height="8.9" fill="#53b987"/>
<rect x="644.0" y="80.1" width="3" height="5.0" fill="#53b987"/>
<rect x="649.0" y="64.2" width="1" height="12.9" fill="#53b987" opacity="0.62"/>
<rect x="648.0" y="72.1" width="3" height="5.0" fill="#53b987"/>
<rect x="652.0" y="72.1" width="3" height="12.9" fill="#eb4d5c"/>
<rect x="656.0" y="92.0" width="3" height="5.0" fill="#53b987"/>
<rect x="660.0" y="99.9" width="3" height="5.0" fill="#eb4d5c"/>
<rect x="664.0" y="99.9" width="3" height="1.0" fill="#53b987"/>
<rect x="667.0" y="107.9" width="3" height="1.0" fill="#53b987"/>
<rect x="672.0" y="111.8" width="1" height="5.0" fill="#53b987" opacity="0.62"/>
<rect x="671.0" y="111.8" width="3" height="1.0" fill="#53b987"/>
<rect x="675.0" y="107.9" width="3" height="1.0" fill="#53b987"/>
<rect x="680.0" y="99.9" width="1" height="16.9" fill="#53b987" opacity="0.62"/>
<rect x="679.0" y="99.9" width="3" height="8.9" fill="#53b987"/>
<rect x="683.0" y="96.0" width="3" height="1.0" fill="#53b987"/>
<rect x="688.0" y="68.2" width="1" height="16.9" fill="#53b987" opacity="0.62"/>
<rect x="687.0" y="80.1" width="3" height="5.0" fill="#53b987"/>
<rect x="691.0" y="80.1" width="3" height="1.0" fill="#53b987"/>
<rect x="695.0" y="72.1" width="3" height="8.9" fill="#53b987"/>
<rect x="698.0" y="72.1" width="3" height="16.9" fill="#eb4d5c"/>
<rect x="702.0" y="84.0" width="3" height="5.0" fill="#53b987"/>
<rect x="706.0" y="76.1" width="3" height="12.9" fill="#53b987"/>
<rect x="711.0" y="64.2" width="1" height="28.8" fill="#eb4d5c" opacity="0.62"/>
<rect x="710.0" y="64.2" width="3" height="24.8" fill="#eb4d5c"/>
<rect x="714.0" y="80.1" width="3" height="12.9" fill="#eb4d5c"/>
<rect x="718.0" y="92.0" width="3" height="1.0" fill="#53b987"/>
<rect x="722.0" y="96.0" width="3" height="8.9" fill="#eb4d5c"/>
<rect x="726.0" y="103.9" width="3" height="1.0" fill="#53b987"/>
<rect x="731.0" y="103.9" width="1" height="8.9" fill="#eb4d5c" opacity="0.62"/>
<rect x="730.0" y="103.9" width="3" height="5.0" fill="#eb4d5c"/>
<rect x="734.0" y="103.9" width="1" height="5.0" fill="#53b987" opacity="0.62"/>
<rect x="733.0" y="107.9" width="3" height="1.0" fill="#53b987"/>
<rect x="738.0" y="103.9" width="1" height="5.0" fill="#53b987" opacity="0.62"/>
<rect x="737.0" y="107.9" width="3" height="1.0" fill="#53b987"/>
<rect x="742.0" y="103.9" width="1" height="8.9" fill="#53b987" opacity="0.62"/>
<rect x="741.0" y="103.9" width="3" height="5.0" fill="#53b987"/>
<rect x="745.0" y="103.9" width="3" height="8.9" fill="#eb4d5c"/>
<rect x="749.0" y="111.8" width="3" height="1.0" fill="#53b987"/>
<rect x="753.0" y="103.9" width="3" height="5.0" fill="#eb4d5c"/>
<rect x="757.0" y="103.9" width="3" height="1.0" fill="#53b987"/>
<rect x="761.0" y="107.9" width="3" height="5.0" fill="#eb4d5c"/>
<rect x="764.0" y="111.8" width="3" height="1.0" fill="#53b987"/>
<rect x="768.0" y="111.8" width="3" height="8.9" fill="#eb4d5c"/>
<rect x="773.0" y="107.9" width="1" height="12.9" fill="#53b987" opacity="0.62"/>
<rect x="772.0" y="107.9" width="3" height="8.9" fill="#53b987"/>
<rect x="777.0" y="103.9" width="1" height="8.9" fill="#eb4d5c" opacity="0.62"/>
<rect x="776.0" y="103.9" width="3" height="5.0" fill="#eb4d5c"/>
<rect x="780.0" y="107.9" width="3" height="1.0" fill="#53b987"/>
<rect x="784.0" y="111.8" width="3" height="1.0" fill="#53b987"/>
<rect x="788.0" y="107.9" width="3" height="5.0" fill="#53b987"/>
<rect x="792.0" y="107.9" width="3" height="5.0" fill="#eb4d5c"/>
<rect x="795.0" y="107.9" width="3" height="1.0" fill="#53b987"/>
<rect x="799.0" y="111.8" width="3" height="1.0" fill="#53b987"/>
<rect x="803.0" y="103.9" width="3" height="8.9" fill="#53b987"/>
<rect x="808.0" y="103.9" width="1" height="36.7" fill="#eb4d5c" opacity="0.62"/>
<rect x="807.0" y="103.9" width="3" height="20.9" fill="#eb4d5c"/>
<rect x="811.0" y="131.7" width="3" height="12.9" fill="#eb4d5c"/>
<rect x="815.0" y="139.6" width="3" height="8.9" fill="#53b987"/>
<rect x="820.0" y="143.6" width="1" height="8.9" fill="#53b987" opacity="0.62"/>
<rect x="819.0" y="143.6" width="3" height="5.0" fill="#53b987"/>
<rect x="823.0" y="147.6" width="3" height="5.0" fill="#eb4d5c"/>
<rect x="826.0" y="147.6" width="3" height="8.9" fill="#53b987"/>
<rect x="831.0" y="139.6" width="1" height="12.9" fill="#53b987" opacity="0.62"/>
<rect x="830.0" y="139.6" width="3" height="5.0" fill="#53b987"/>
<rect x="835.0" y="135.7" width="1" height="12.9" fill="#eb4d5c" opacity="0.62"/>
<rect x="834.0" y="139.6" width="3" height="8.9" fill="#eb4d5c"/>
<rect x="839.0" y="139.6" width="1" height="12.9" fill="#53b987" opacity="0.62"/>
<rect x="838.0" y="139.6" width="3" height="8.9" fill="#53b987"/>
<rect x="842.0" y="123.8" width="3" height="20.9" fill="#eb4d5c"/>
<rect x="846.0" y="147.6" width="3" height="1.0" fill="#53b987"/>
<rect x="850.0" y="147.6" width="3" height="24.8" fill="#eb4d5c"/>
<rect x="854.0" y="175.4" width="3" height="5.0" fill="#eb4d5c"/>
<rect x="857.0" y="163.5" width="3" height="8.9" fill="#53b987"/>
<rect x="861.0" y="167.4" width="3" height="5.0" fill="#eb4d5c"/>
<rect x="865.0" y="163.5" width="3" height="8.9" fill="#53b987"/>
<rect x="869.0" y="163.5" width="3" height="5.0" fill="#53b987"/>
<rect x="874.0" y="155.5" width="1" height="12.9" fill="#53b987" opacity="0.62"/>
<rect x="873.0" y="163.5" width="3" height="1.0" fill="#53b987"/>
<rect x="878.0" y="163.5" width="1" height="20.9" fill="#eb4d5c" opacity="0.62"/>
<rect x="877.0" y="163.5" width="3" height="16.9" fill="#eb4d5c"/>
<rect x="881.0" y="187.3" width="3" height="20.9" fill="#eb4d5c"/>
<rect x="885.0" y="175.4" width="3" height="28.8" fill="#53b987"/>
<rect x="888.0" y="179.3" width="3" height="1.0" fill="#53b987"/>
<rect x="892.0" y="175.4" width="3" height="8.9" fill="#53b987"/>
<rect x="897.0" y="175.4" width="1" height="8.9" fill="#53b987" opacity="0.62"/>
<rect x="896.0" y="179.3" width="3" height="5.0" fill="#53b987"/>
<rect x="900.0" y="183.3" width="3" height="1.0" fill="#53b987"/>
<rect x="904.0" y="179.3" width="3" height="8.9" fill="#53b987"/>
<rect x="909.0" y="179.3" width="1" height="16.9" fill="#53b987" opacity="0.62"/>
<rect x="908.0" y="179.3" width="3" height="8.9" fill="#53b987"/>
<rect x="913.0" y="115.8" width="1" height="12.9" fill="#53b987" opacity="0.62"/>
<rect x="912.0" y="119.8" width="3" height="5.0" fill="#53b987"/>
<rect x="916.0" y="119.8" width="3" height="5.0" fill="#eb4d5c"/>
<rect x="920.0" y="131.7" width="3" height="12.9" fill="#eb4d5c"/>
<rect x="924.0" y="123.8" width="1" height="16.9" fill="#53b987" opacity="0.62"/>
<rect x="923.0" y="139.6" width="3" height="1.0" fill="#53b987"/>
<rect x="927.0" y="135.7" width="3" height="5.0" fill="#eb4d5c"/>
<rect x="931.0" y="123.8" width="3" height="1.0" fill="#53b987"/>
<rect x="936.0" y="111.8" width="1" height="12.9" fill="#53b987" opacity="0.62"/>
<rect x="935.0" y="119.8" width="3" height="5.0" fill="#53b987"/>
<rect x="939.0" y="115.8" width="3" height="5.0" fill="#53b987"/>
<rect x="943.0" y="103.9" width="3" height="1.0" fill="#53b987"/>
<rect x="948.0" y="131.7" width="1" height="44.7" fill="#eb4d5c" opacity="0.62"/>
<rect x="947.0" y="139.6" width="3" height="24.8" fill="#eb4d5c"/>
<rect x="952.0" y="143.6" width="1" height="24.8" fill="#eb4d5c" opacity="0.62"/>
<rect x="951.0" y="159.5" width="3" height="8.9" fill="#eb4d5c"/>
<rect x="955.0" y="151.6" width="1" height="16.9" fill="#eb4d5c" opacity="0.62"/>
<rect x="954.0" y="155.5" width="3" height="8.9" fill="#eb4d5c"/>
<rect x="959.0" y="155.5" width="1" height="12.9" fill="#eb4d5c" opacity="0.62"/>
<rect x="958.0" y="155.5" width="3" height="5.0" fill="#eb4d5c"/>
<rect x="963.0" y="147.6" width="1" height="16.9" fill="#53b987" opacity="0.62"/>
<rect x="962.0" y="163.5" width="3" height="1.0" fill="#53b987"/>
<rect x="967.0" y="151.6" width="1" height="12.9" fill="#eb4d5c" opacity="0.62"/>
<rect x="966.0" y="155.5" width="3" height="8.9" fill="#eb4d5c"/>
<rect x="971.0" y="151.6" width="1" height="16.9" fill="#eb4d5c" opacity="0.62"/>
<rect x="970.0" y="155.5" width="3" height="12.9" fill="#eb4d5c"/>
<rect x="975.0" y="111.8" width="1" height="56.6" fill="#53b987" opacity="0.62"/>
<rect x="974.0" y="111.8" width="3" height="52.6" fill="#53b987"/>
<rect x="979.0" y="96.0" width="1" height="20.9" fill="#53b987" opacity="0.62"/>
<rect x="978.0" y="103.9" width="3" height="12.9" fill="#53b987"/>
</g>
<g clip-path="url(#cm)"><ellipse cx="963.8" cy="388.4" rx="31.5" ry="58" fill="none" stroke="#a89e18" stroke-width="1.1"/></g>
<line x1="7" y1="442.5" x2="1192" y2="442.5" stroke="#8c8c8c" stroke-width="1"/>
<line x1="7" y1="528.5" x2="1192" y2="528.5" stroke="#8c8c8c" stroke-width="1"/>
<line x1="7" y1="599.5" x2="1192" y2="599.5" stroke="#8c8c8c" stroke-width="1"/>
<line x1="7" y1="684.5" x2="1192" y2="684.5" stroke="#8c8c8c" stroke-width="1"/>
<line x1="1135.5" y1="44" x2="1135.5" y2="711" stroke="#8c8c8c" stroke-width="1"/>
<text x="15" y="65" font-size="12.3" fill="#e6e6e6" font-weight="bold" textLength="187" lengthAdjust="spacingAndGlyphs">SEMAPA, 60, EURONEXT LISBON</text>
<text x="15" y="82" font-size="12.3" fill="#d6d6d6" textLength="43" lengthAdjust="spacingAndGlyphs">Vol (20)</text>
<polyline points="9.2,502.1 13.3,501.4 17.5,499.2 21.7,497.0 25.9,493.7 29.2,491.4 33.0,488.4 36.4,485.4 40.5,484.2 44.2,484.2 48.4,486.4 52.5,490.0 56.7,493.0 60.4,495.0 64.2,497.5 67.6,496.4 71.7,494.7 75.9,490.9 79.7,487.5 83.4,489.2 87.6,490.4 91.4,492.0 95.4,494.2 99.2,497.5 103.1,496.7 106.8,495.9 110.9,494.7 114.8,492.5 118.4,496.7 122.6,500.9 126.4,499.7 130.4,503.1 134.3,505.4 138.1,507.1 141.8,507.6 146.0,508.1 149.8,508.9 153.5,510.1 157.6,510.9 161.0,508.4 164.8,508.4 168.5,506.7 172.6,504.2 176.8,499.7 180.5,496.7 184.3,495.9 188.5,495.4 192.7,494.2 193.3,494.2 195.8,493.0 200.0,490.9 203.7,489.2 207.5,488.0 211.4,486.7 215.0,485.4 219.2,483.7 223.0,482.5 226.7,481.4 230.5,481.4 234.7,478.7 238.4,473.4 242.5,469.7 246.4,477.0 250.4,481.4 254.2,483.4 257.6,484.2 261.7,485.9 265.9,488.0 269.7,490.0 273.4,491.4 277.6,492.0 281.4,493.4 285.4,492.5 289.2,493.0 293.1,496.4 296.8,498.7 300.4,501.4 304.3,500.9 308.4,500.4 312.6,498.4 316.4,497.5 320.4,497.5 324.3,497.5 328.1,495.9 331.8,493.0 336.0,489.7 339.8,487.5 343.5,485.9 347.3,483.0 351.0,479.2 354.8,475.9 358.5,473.7 362.6,473.7 366.8,477.5 370.5,478.7 374.3,477.5 378.5,475.9 382.2,473.7 385.8,471.4 389.7,471.4 393.7,468.7 397.5,466.7 401.4,464.2 405.0,462.0 409.7,460.0 413.0,458.0 416.7,455.8 420.5,453.7 424.7,452.0 428.4,450.3 432.5,448.7 436.4,447.0 440.4,455.0 444.2,461.7 447.6,467.5 451.7,472.5 455.9,476.7 459.7,479.7 463.4,481.4 467.6,482.5 471.4,482.5 475.4,482.5 478.7,487.5 482.6,491.4 486.8,494.2 490.4,495.4 494.3,495.9 498.4,496.7 502.6,495.9 506.4,493.7 510.4,494.2 514.3,494.2 518.1,495.4 521.8,498.0 526.0,501.4 529.8,501.7 533.5,500.9 537.3,499.2 541.0,499.2 544.8,501.4 548.5,501.7 552.6,503.4 556.8,504.4 560.5,503.7 564.3,503.1 568.5,501.7 572.2,499.7 575.8,496.7 579.7,499.2 583.7,501.7 587.5,503.1 591.4,503.7 595.0,504.2 599.7,504.2 603.4,504.7 606.7,505.4 610.5,506.7 614.7,503.4 618.4,500.9 622.5,497.5 626.4,499.2 630.4,500.4 634.2,501.7 637.6,503.7 641.7,503.4 645.9,503.1 649.7,500.4 653.4,500.4 657.6,503.1 661.4,504.7 665.4,506.4 669.2,506.4 673.1,505.4 676.8,505.4 680.4,504.7 684.3,506.4 688.4,504.2 692.6,503.4 696.4,501.7 700.4,501.4 704.3,501.4 708.1,500.1 711.8,497.5 716.0,495.0 719.8,494.2 723.5,496.4 727.3,498.7 731.0,501.4 734.8,503.7 738.5,505.4 742.6,506.4 746.8,506.7 750.5,507.6 754.3,508.1 758.5,508.4 762.2,509.2 765.8,509.2 769.7,507.6 773.7,507.6 777.5,509.2 781.4,510.4 785.9,510.9 789.7,512.6 793.4,513.7 796.7,514.7 800.9,514.7 804.7,513.4 808.4,510.1 812.5,506.4 816.4,502.6 820.4,498.4 824.2,494.7 827.6,491.4 831.7,492.5 835.9,494.2 839.2,494.7 843.4,497.5 847.6,500.4 851.4,499.2 855.4,497.5 859.2,499.2 863.1,500.9 866.8,503.1 870.4,504.7 874.8,505.9 878.4,506.7 882.6,503.7 886.4,503.4 890.4,503.4 894.3,503.7 898.1,503.7 901.8,503.7 906.0,503.4 909.8,501.7 913.5,499.7 917.3,496.7 921.0,498.4 924.8,498.7 928.5,499.2 932.6,498.4 936.8,496.4 940.5,494.7 945.0,491.4 948.5,493.5 952.2,494.4 955.9,495.6 960.0,496.6 963.7,498.4 967.4,500.3 971.4,501.1 975.4,501.3 980.3,500.3" fill="none" stroke="#dcd000" stroke-width="1.25" stroke-linejoin="round"/>
<polyline points="9.2,501.7 13.3,497.5 16.7,484.2 20.9,478.7 25.0,478.4 29.2,478.4 33.0,480.9 36.4,480.0 40.0,487.5 44.2,490.0 48.4,493.0 52.5,496.7 56.7,499.7 60.4,500.4 64.2,496.7 67.6,493.7 71.7,483.7 75.9,475.4 79.7,473.4 83.4,488.4 87.6,490.0 91.4,490.0 95.4,492.0 99.2,494.2 103.1,486.7 106.8,483.7 110.9,483.4 114.8,479.7 118.4,490.9 122.6,496.7 126.4,483.4 130.4,488.0 134.3,491.7 138.1,495.4 141.8,498.4 146.0,493.4 149.8,494.2 153.5,494.2 157.6,494.2 161.0,486.7 164.8,489.2 168.5,481.7 172.6,484.2 176.8,472.5 180.5,473.4 184.3,480.9 188.5,486.4 192.7,483.7 193.3,483.4 195.8,483.4 200.0,479.2 203.7,476.4 207.5,476.4 211.4,490.0 215.0,497.5 219.2,500.9 223.0,503.4 226.7,505.9 230.5,505.4 234.7,493.4 238.4,466.7 242.5,475.9 246.4,494.2 250.4,496.7 254.2,479.7 257.6,480.4 261.7,485.0 265.9,487.0 269.7,488.7 273.4,487.5 277.6,486.7 281.4,502.1 285.4,503.4 289.2,505.1 293.1,506.7 296.8,507.6 300.4,505.4 304.3,508.1 308.4,509.7 312.6,512.6 316.4,513.4 320.4,510.4 324.3,511.7 328.1,513.4 331.8,514.4 336.0,515.4 339.8,517.1 343.5,517.2 347.3,518.4 351.0,520.4 354.8,520.7 358.5,520.4 362.6,516.7 366.8,507.6 370.5,509.2 374.3,512.6 378.5,514.7 382.2,515.9 385.8,517.6 389.7,512.6 393.7,517.1 397.5,517.6 405.0,519.7 413.0,521.7 416.7,522.4 428.4,522.4 432.5,523.4 436.4,523.4 440.4,500.9 444.2,505.9 447.6,507.6 451.7,508.4 455.9,508.4 459.7,509.2 463.4,509.2 467.6,510.4 471.4,512.1 475.4,513.4 478.7,498.4 482.6,500.4 486.8,501.7 490.4,505.4 494.3,507.1 498.4,508.4 502.6,510.9 506.4,513.7 510.4,509.2 514.3,510.4 518.1,512.6 521.8,506.7 526.0,508.1 529.8,509.7 533.5,510.9 537.3,511.7 541.0,505.9 544.8,492.0 548.5,489.7 552.6,496.7 556.8,500.9 560.5,503.1 564.3,504.2 568.5,508.1 572.2,510.4 575.8,513.7 579.7,496.7 583.7,498.4 587.5,499.7 591.4,503.4 595.0,505.1 599.7,505.4 603.4,507.1 606.7,498.7 610.5,500.9 614.7,487.5 618.4,490.0 622.5,493.0 626.4,497.5 630.4,499.2 634.2,500.1 637.6,501.4 641.7,505.4 645.9,508.7 649.7,510.4 653.4,505.9 657.6,495.9 661.4,492.5 665.4,494.2 669.2,487.5 673.1,483.4 676.8,485.4 680.4,492.5 684.3,494.2 688.4,503.7 692.6,503.1 696.4,505.4 700.4,500.4 704.3,500.9 708.1,505.9 711.8,510.4 716.0,512.6 719.8,512.6 723.5,501.7 727.3,501.4 731.0,494.7 734.8,496.7 738.5,497.5 742.6,495.4 746.8,499.2 750.5,499.2 754.3,502.6 758.5,504.2 762.2,494.7 765.8,493.7 769.7,484.7 773.7,493.7 777.5,497.5 781.4,497.5 785.9,492.5 789.7,495.4 793.4,497.5 796.7,500.4 800.9,493.7 804.7,499.2 808.4,477.0 812.5,484.7 816.4,483.7 820.4,485.4 824.2,489.2 827.6,488.7 831.7,493.7 835.9,498.4 839.2,497.5 843.4,503.4 847.6,500.1 851.4,483.7 855.4,479.2 859.2,487.0 863.1,490.9 866.8,493.4 870.4,494.2 874.8,499.7 878.4,488.7 882.6,478.4 886.4,489.2 890.4,491.7 894.3,493.7 898.1,495.4 901.8,497.5 906.0,499.7 909.8,496.7 913.5,508.1 917.3,509.2 921.0,498.4 924.8,501.4 928.5,503.1 932.6,505.4 936.8,507.6 940.5,508.7 945.0,510.7 948.5,476.7 952.2,483.1 955.9,488.0 960.0,490.4 963.7,493.9 967.4,496.0 971.4,497.2 972.9,500.3 976.0,505.2 980.3,508.6" fill="none" stroke="#e00000" stroke-width="1.25" stroke-linejoin="round"/>
<polyline points="9.2,498.4 13.3,501.7 17.5,506.7 21.7,510.9 25.9,511.7 29.2,512.6 33.0,514.2 36.4,515.9 40.5,512.6 44.2,513.4 48.4,504.2 52.5,502.6 56.7,504.7 60.4,505.4 64.2,506.7 67.6,510.1 71.7,512.6 75.9,514.7 79.7,516.7 83.4,501.7 87.6,504.7 91.4,504.2 95.4,500.4 99.2,502.6 103.1,506.7 106.8,507.6 110.9,507.6 114.8,509.7 118.4,493.4 122.6,496.7 126.4,503.1 130.4,494.7 134.3,493.4 138.1,491.4 141.8,490.0 146.0,499.2 149.8,501.4 153.5,501.4 157.6,501.4 161.0,504.2 164.8,499.7 168.5,505.4 172.6,507.6 176.8,511.7 180.5,512.6 184.3,504.7 188.5,506.4 192.7,507.1 193.3,507.2 195.8,507.6 200.0,509.7 203.7,510.4 207.5,510.4 211.4,514.2 215.0,515.9 219.2,517.1 223.0,518.4 226.7,519.7 230.5,519.7 234.7,520.9 238.4,522.2 242.5,522.2 246.4,492.5 250.4,494.7 254.2,502.1 257.6,503.7 261.7,505.4 265.9,503.1 269.7,500.4 273.4,502.1 277.6,504.2 281.4,512.6 285.4,514.2 288.4,515.1 292.6,506.7 296.8,502.6 300.4,503.4 304.3,492.5 308.4,496.4 312.6,495.4 316.4,497.5 320.4,499.7 324.3,500.1 328.1,494.2 331.8,487.5 336.0,492.5 339.8,496.7 343.5,498.4 347.3,490.0 351.0,485.4 354.8,490.0 358.5,490.0 362.6,491.4 366.8,495.4 370.5,488.4 374.3,475.4 378.5,476.4 382.2,476.4 385.8,474.7 389.7,477.5 393.7,461.7 397.5,459.7 401.4,460.4 405.0,461.7 409.7,466.4 413.0,459.7 416.7,456.7 420.5,453.7 424.7,452.5 428.4,455.3 432.5,455.8 436.4,460.9 438.4,473.4 440.4,486.7 444.2,495.9 447.6,498.4 451.7,499.2 455.9,497.5 459.7,498.4 463.4,496.7 467.6,495.4 471.4,487.5 475.4,490.0 478.7,497.5 482.6,499.2 486.8,495.9 490.4,489.7 494.3,492.0 498.4,494.2 502.6,491.4 506.4,489.2 510.4,496.7 514.3,500.1 518.1,503.1 521.8,505.4 526.0,506.4 529.8,496.7 533.5,497.5 537.3,491.4 541.0,493.7 544.8,499.2 548.5,499.7 552.6,487.5 556.8,493.4 560.5,488.4 564.3,484.7 568.5,492.5 572.2,489.7 575.8,478.4 579.7,491.4 583.7,494.7 587.5,491.4 591.4,496.7 595.0,494.2 599.7,494.2 603.4,497.5 606.7,503.1 610.5,505.9 614.7,514.7 618.4,512.6 622.5,513.4 626.4,505.4 630.4,507.1 634.2,504.2 637.6,505.1 641.7,491.4 645.9,495.4 649.7,485.4 653.4,490.0 657.6,495.0 661.4,497.5 665.4,499.7 669.2,501.7 673.1,503.7 676.8,500.9 680.4,504.7 684.3,501.7 688.4,481.4 692.6,480.9 696.4,475.9 700.4,485.0 704.3,487.5 708.1,484.7 711.8,484.7 716.0,489.2 719.8,489.7 723.5,494.2 727.3,494.2 731.0,496.7 734.8,499.2 738.5,500.1 742.6,503.1 746.8,505.9 750.5,506.7 754.3,496.7 758.5,498.4 762.2,502.1 765.8,502.6 769.7,505.4 773.7,503.4 777.5,499.2 781.4,499.2 785.9,502.6 789.7,496.4 793.4,498.4 796.7,501.4 800.9,503.4 804.7,490.0 808.4,507.1 812.5,511.4 816.4,512.6 820.4,514.2 824.2,515.4 827.6,516.4 831.7,508.7 835.9,506.7 839.2,509.2 843.4,497.5 847.6,498.7 851.4,504.2 855.4,506.4 859.2,498.4 863.1,499.7 866.8,498.7 870.4,499.2 874.8,494.2 878.4,501.7 882.6,507.6 886.4,503.4 890.4,503.7 894.3,505.9 898.1,506.7 901.8,508.1 906.0,510.1 909.8,511.7 913.5,477.5 917.3,479.2 921.0,484.7 924.8,486.4 928.5,487.5 932.6,483.7 936.8,478.0 940.5,478.7 945.0,473.0 948.5,495.4 952.2,499.7 955.9,502.7 959.4,503.7 963.7,501.3 967.4,503.3 971.4,505.8 972.9,501.5 974.7,492.9 977.2,489.2 980.3,486.1" fill="none" stroke="#00d200" stroke-width="1.25" stroke-linejoin="round"/>
<line x1="9" y1="555.6" x2="980.5" y2="555.6" stroke="#c8c8c8" stroke-width="1.1"/>
<polyline points="9.2,553.0 13.3,554.7 17.5,555.2 21.7,554.7 25.9,551.9 30.0,549.4 35.0,545.7 40.0,543.0 44.2,541.8 48.4,541.3 52.5,542.3 56.7,544.0 60.9,545.7 65.1,547.7 69.2,549.7 73.4,551.0 75.9,551.4 80.1,550.5 84.2,550.5 88.4,550.5 92.6,550.5 95.9,550.5 99.2,549.4 103.4,549.7 107.6,551.0 111.8,551.5 115.1,551.5 119.3,550.5 123.4,550.5 127.6,550.5 130.1,550.7 134.3,553.0 138.4,554.7 142.6,556.4 146.8,557.7 151.0,558.9 155.1,560.2 159.3,560.7 163.5,560.7 167.6,560.7 171.8,559.9 176.0,557.7 180.2,555.7 184.3,553.5 188.5,551.4 192.7,549.0 195.8,547.4 200.0,546.0 203.7,544.3 207.5,544.3 211.4,545.5 215.0,545.5 219.2,545.5 223.0,546.5 226.7,547.7 230.5,548.5 234.7,549.7 238.4,548.5 242.5,547.4 246.4,547.4 250.4,547.4 254.2,546.5 257.6,544.3 261.7,543.0 265.4,542.3 269.7,544.3 273.4,546.4 277.6,546.4 281.4,544.3 285.4,545.2 289.2,545.5 293.1,546.5 296.8,547.4 300.4,547.4 304.3,548.2 308.4,549.7 312.6,551.9 316.4,554.4 320.4,556.9 324.3,558.5 328.1,559.4 331.8,560.5 336.0,562.2 339.8,562.7 343.5,564.4 347.3,565.5 351.0,566.5 354.8,568.5 358.5,568.5 362.6,567.4 366.8,566.4 370.5,566.4 374.3,566.4 378.5,565.5 382.2,566.4 385.8,567.4 389.7,567.4 393.7,569.7 397.5,572.4 401.4,575.2 405.0,576.9 409.7,579.0 413.4,581.0 416.7,584.4 420.5,587.7 424.7,589.4 428.4,590.2 432.5,591.9 436.4,593.6 440.4,595.2 444.2,593.6 447.6,590.2 451.7,586.4 455.9,582.4 459.7,578.5 463.4,574.7 467.6,571.4 471.4,567.7 475.4,565.5 479.2,563.5 483.1,562.2 486.8,560.5 490.4,559.7 494.3,559.7 498.4,559.7 502.6,559.7 506.4,559.7 510.4,559.7 514.3,560.7 518.1,561.4 521.8,560.7 526.0,560.5 529.8,559.7 533.5,559.7 537.3,559.7 541.0,559.7 544.8,557.4 548.5,557.4 552.6,557.4 556.8,557.4 560.5,556.9 564.3,556.5 568.5,556.5 572.2,556.5 575.8,558.9 579.7,560.7 583.7,562.4 587.5,563.5 591.4,564.7 595.0,565.5 599.7,565.5 603.4,565.5 606.7,564.7 610.5,564.7 614.7,564.7 618.4,564.7 622.5,564.7 626.4,563.5 630.4,563.5 634.2,564.4 637.6,564.4 641.7,565.5 645.9,565.5 649.7,567.4 653.4,567.7 657.6,568.5 661.4,567.7 665.4,566.5 669.2,565.5 673.1,563.5 676.8,561.4 680.4,558.5 684.3,556.5 688.4,555.7 692.6,555.7 696.4,556.5 700.4,557.7 704.3,558.9 708.1,559.7 711.8,560.5 716.0,560.5 719.8,559.7 723.5,558.5 727.3,557.7 731.0,556.5 734.8,555.2 738.5,553.5 742.6,552.4 746.8,550.5 750.5,549.4 754.3,548.2 758.5,549.4 762.2,549.4 765.8,549.4 769.7,550.5 773.7,550.5 777.5,551.4 781.4,552.4 785.9,553.2 789.7,553.5 793.4,554.7 796.7,555.7 800.9,556.5 804.7,556.5 808.4,555.7 812.5,553.2 816.4,552.4 820.4,551.4 824.2,549.4 827.6,547.4 831.7,546.4 835.9,544.3 839.7,544.3 843.4,545.5 847.6,545.5 851.4,545.5 855.4,545.5 859.2,546.4 863.1,545.5 866.8,545.5 870.4,545.5 874.8,545.5 878.4,545.5 882.6,545.5 886.4,547.4 890.4,547.7 894.3,548.5 898.1,548.5 901.8,547.4 906.0,547.4 909.8,548.5 913.5,554.4 917.3,556.9 921.0,558.9 925.2,562.5 932.5,566.1 940.9,572.4 945.0,572.4 949.2,569.3 954.4,566.7 961.7,560.9 966.9,557.1 972.1,552.1 975.3,549.8 977.9,550.2 980.3,551.5" fill="none" stroke="#d00000" stroke-width="1.25" stroke-linejoin="round"/>
<polyline points="9.2,555.2 13.3,558.0 17.5,561.9 21.7,566.0 25.9,568.5 29.2,569.7 33.4,567.7 37.5,565.2 41.7,561.9 45.9,557.7 50.0,553.5 54.2,551.9 58.4,551.4 62.6,552.4 66.7,554.7 70.9,558.5 75.1,562.7 79.2,566.5 83.4,565.7 87.6,562.7 91.7,558.0 95.9,554.0 98.7,552.4 102.6,554.4 106.8,556.9 110.9,559.7 114.3,560.7 118.4,559.7 122.6,558.5 126.8,556.0 130.9,554.0 135.1,552.4 138.4,551.4 141.8,551.4 146.0,549.4 150.1,550.7 154.3,552.7 158.5,555.2 162.6,556.9 166.8,558.5 171.0,560.2 175.1,562.7 179.3,564.4 183.5,564.4 188.5,561.4 192.7,560.7 195.8,560.2 200.0,559.7 203.7,559.4 207.5,559.4 211.4,558.5 215.0,557.4 219.2,556.0 223.0,557.4 226.7,556.0 230.5,557.4 234.7,557.4 238.4,561.4 242.5,566.0 246.4,568.5 250.4,561.4 254.2,561.4 257.6,561.4 261.7,561.4 265.4,557.4 269.7,556.0 273.4,555.7 277.6,555.7 281.4,559.4 285.4,563.5 288.7,566.5 293.1,561.9 296.8,557.4 300.4,553.2 304.3,551.4 308.4,549.4 312.6,550.5 316.4,550.5 320.4,553.2 324.3,553.2 328.1,554.4 331.8,552.4 336.0,550.2 339.8,548.2 343.5,549.4 347.3,549.4 351.0,550.5 354.8,550.5 358.5,551.4 362.6,551.4 366.8,554.7 370.5,556.5 374.3,555.7 378.5,551.4 382.2,547.7 385.8,544.3 389.7,545.5 393.7,544.3 397.5,542.2 401.4,539.3 405.0,541.0 409.7,542.3 413.4,540.7 416.7,538.2 420.5,535.2 424.7,533.2 428.4,534.0 432.5,539.0 436.4,543.5 440.4,546.4 444.2,550.5 447.6,554.7 451.7,558.5 455.4,559.4 459.7,557.4 463.4,556.5 467.6,555.7 471.4,553.5 475.4,551.4 479.2,552.4 483.1,553.2 486.8,555.2 490.4,554.4 494.3,553.5 498.4,553.5 502.6,554.4 506.4,553.5 510.4,554.4 513.4,553.5 518.1,554.4 521.8,555.2 526.0,557.4 529.8,556.5 533.5,554.7 537.3,552.4 541.0,553.5 544.8,556.5 548.5,559.7 552.6,560.7 556.8,559.7 560.5,556.5 564.3,553.5 568.5,550.5 572.2,548.5 575.8,547.4 579.7,548.5 583.7,549.4 587.5,550.5 591.4,552.4 595.0,553.5 599.7,553.5 603.4,554.7 606.7,555.7 610.5,555.7 614.7,553.5 618.4,551.4 622.5,550.5 626.4,551.4 630.4,550.5 634.2,550.5 637.6,550.5 641.7,550.5 645.9,549.4 649.7,547.4 653.4,547.4 657.6,552.4 661.4,556.9 665.4,559.7 669.2,563.5 673.1,563.5 676.8,562.4 680.4,559.7 684.3,555.7 688.4,550.5 692.6,548.5 696.4,546.4 700.4,550.5 704.3,552.4 708.1,554.7 711.8,555.7 716.0,557.7 719.8,559.7 723.5,561.4 727.3,561.4 731.0,562.4 734.8,561.4 738.5,560.5 742.6,558.5 746.8,557.7 750.5,557.7 754.3,557.7 758.5,555.7 762.2,555.7 765.8,556.5 769.7,558.5 773.7,557.7 777.5,556.5 781.4,554.7 785.9,555.7 789.7,555.7 793.4,555.7 796.7,555.7 800.9,556.5 804.7,555.7 808.4,557.7 812.5,561.4 816.4,565.5 820.4,566.5 824.2,566.0 827.6,564.7 831.7,561.9 835.9,557.7 839.7,554.7 843.4,555.7 847.6,555.7 851.4,559.7 855.4,564.4 858.7,565.5 863.1,563.5 866.8,560.5 870.4,558.5 874.8,554.7 878.4,555.7 882.6,561.4 886.4,563.5 890.4,561.9 894.3,556.5 898.1,556.5 901.8,555.7 906.0,555.7 909.8,555.7 913.5,549.4 917.3,542.7 921.5,537.3 925.2,544.8 928.9,550.5 932.5,550.5 936.7,551.2 940.9,551.3 944.5,548.2 949.2,553.6 952.3,560.9 955.8,571.7 959.6,569.8 963.8,566.7 968.0,562.5 971.6,560.4 974.2,554.2 976.8,548.4 980.3,543.2" fill="none" stroke="#00c800" stroke-width="1.25" stroke-linejoin="round"/>
<text x="15.3" y="463.8" font-size="12.3" fill="#d6d6d6" textLength="56.4" lengthAdjust="spacingAndGlyphs">DMI (8, 8)</text>
<text x="15.3" y="549.8" font-size="12.3" fill="#d6d6d6" textLength="55.5" lengthAdjust="spacingAndGlyphs">Didi Index</text>
<line x1="7" y1="608.3" x2="1135" y2="608.3" stroke="#bdbdbd" stroke-width="1" stroke-dasharray="4.7 4.47"/>
<line x1="7" y1="675.8" x2="1135" y2="675.8" stroke="#bdbdbd" stroke-width="1" stroke-dasharray="4.7 4.47"/>
<g clip-path="url(#cp)">
<polyline points="9.5,663.9 13.5,670.9 17.5,678.3 21.5,679.6 25.5,679.8 29.5,655.9 33.5,672.0 36.5,674.6 40.5,629.3 44.5,629.3 48.5,617.8 52.5,609.2 56.5,637.3 60.5,637.3 64.5,637.3 67.5,674.6 71.5,678.8 75.5,679.7 79.5,680.2 83.5,639.0 87.5,624.5 91.5,624.5 95.5,624.5 98.5,612.0 102.5,669.1 106.5,669.1 110.5,669.1 114.5,676.2 118.5,636.4 122.5,636.4 126.5,636.4 129.5,607.7 133.5,607.7 137.5,605.2 141.5,604.9 145.5,604.7 149.5,641.3 153.5,641.3 157.5,641.3 160.5,676.0 164.5,642.4 168.5,670.5 172.5,673.8 176.5,678.7 180.5,678.7 184.5,634.8 188.5,659.6 192.5,666.9 195.5,666.9 199.5,674.9 203.5,677.9 207.5,677.9 211.5,618.3 215.5,662.4 219.5,634.3 223.5,657.1 226.5,639.7 230.5,639.7 234.5,669.3 238.5,679.0 242.5,658.3 246.5,639.1 250.5,624.6 254.5,666.2 257.5,655.4 261.5,642.2 265.5,629.3 269.5,619.2 273.5,646.7 277.5,668.4 281.5,678.0 285.5,678.0 288.5,652.6 292.5,620.1 296.5,612.7 300.5,634.5 304.5,622.8 308.5,610.0 312.5,644.0 316.5,624.6 319.5,652.3 323.5,636.5 327.5,618.2 331.5,609.6 335.5,609.6 339.5,607.3 343.5,607.3 347.5,604.9 350.5,645.0 354.5,620.1 358.5,620.1 362.5,647.3 366.5,668.6 370.5,632.6 374.5,617.7 378.5,608.1 382.5,606.8 385.5,606.8 389.5,638.0 393.5,608.4 397.5,607.3 401.5,607.3 405.5,605.5 409.5,605.1 413.5,604.7 416.5,604.6 420.5,604.5 424.5,604.5 428.5,604.5 432.5,604.5 436.5,632.3 440.5,611.6 444.5,652.8 447.5,665.9 451.5,642.2 455.5,631.7 459.5,649.1 463.5,630.5 467.5,618.7 471.5,611.9 475.5,607.1 478.5,655.8 482.5,655.8 486.5,631.7 490.5,611.6 494.5,645.8 498.5,632.1 502.5,632.1 506.5,616.4 509.5,650.5 513.5,615.5 517.5,654.7 521.5,662.1 525.5,641.1 529.5,619.4 533.5,613.8 537.5,613.8 540.5,653.7 544.5,675.9 548.5,677.2 552.5,626.3 556.5,640.3 560.5,622.1 564.5,616.2 568.5,609.5 572.5,606.8 575.5,606.8 579.5,605.2 583.5,635.7 587.5,635.7 591.5,611.9 595.5,641.6 599.5,641.6 603.5,618.1 606.5,662.8 610.5,628.5 614.5,611.6 618.5,640.0 622.5,624.0 626.5,624.0 630.5,611.4 634.5,608.7 637.5,608.7 641.5,605.5 645.5,604.8 649.5,604.7 653.5,649.5 657.5,663.1 661.5,673.0 665.5,654.2 668.5,668.0 672.5,672.3 676.5,644.7 680.5,619.8 684.5,613.9 688.5,606.8 692.5,606.8 696.5,605.4 699.5,658.5 703.5,644.4 707.5,624.0 711.5,658.2 715.5,664.6 719.5,664.6 723.5,676.9 727.5,676.9 731.5,678.7 734.5,678.7 738.5,678.7 742.5,619.2 746.5,665.9 750.5,665.9 754.5,628.8 758.5,615.5 762.5,660.1 765.5,660.1 769.5,675.1 773.5,626.6 777.5,626.6 781.5,626.6 785.5,661.5 789.5,629.3 793.5,656.5 796.5,629.7 800.5,655.5 804.5,621.3 808.5,666.9 812.5,675.1 816.5,661.4 820.5,666.7 824.5,674.0 827.5,650.0 831.5,623.6 835.5,654.2 839.5,628.4 843.5,646.2 847.5,660.1 851.5,677.0 855.5,678.3 858.5,634.9 862.5,651.8 866.5,631.7 870.5,631.7 874.5,631.7 878.5,674.2 882.5,679.0 886.5,631.9 889.5,638.5 893.5,631.2 897.5,646.0 901.5,658.9 905.5,635.6 909.5,635.6 913.5,605.7 917.5,614.2 921.5,649.5 924.5,641.6 928.5,641.6 932.5,614.2 936.5,611.6 940.5,609.1 944.5,606.0 948.5,670.9 952.5,671.9 955.5,660.3 959.5,646.0 963.5,657.7 967.5,657.7 971.5,670.8 975.5,608.4 979.5,607.6" fill="none" stroke="#dccb2e" stroke-width="1.15" stroke-linejoin="round"/>
</g>
<text x="15.8" y="621" font-size="12.3" fill="#d6d6d6" textLength="69.6" lengthAdjust="spacingAndGlyphs">RSI (2, close)</text>
<g clip-path="url(#ca)">
<line x1="1136" y1="44.4" x2="1140" y2="44.4" stroke="#8c8c8c" stroke-width="1"/>
<text x="1144.5" y="49.1" font-size="10.5" fill="#c0c0c0" textLength="27.5" lengthAdjust="spacingAndGlyphs">13.00</text>
<line x1="1136" y1="94.1" x2="1140" y2="94.1" stroke="#8c8c8c" stroke-width="1"/>
<text x="1144.5" y="98.8" font-size="10.5" fill="#c0c0c0" textLength="27.5" lengthAdjust="spacingAndGlyphs">12.76</text>
<line x1="1136" y1="143.8" x2="1140" y2="143.8" stroke="#8c8c8c" stroke-width="1"/>
<text x="1144.5" y="148.5" font-size="10.5" fill="#c0c0c0" textLength="27.5" lengthAdjust="spacingAndGlyphs">12.50</text>
<line x1="1136" y1="193.5" x2="1140" y2="193.5" stroke="#8c8c8c" stroke-width="1"/>
<text x="1144.5" y="198.2" font-size="10.5" fill="#c0c0c0" textLength="27.5" lengthAdjust="spacingAndGlyphs">12.26</text>
<line x1="1136" y1="243.2" x2="1140" y2="243.2" stroke="#8c8c8c" stroke-width="1"/>
<text x="1144.5" y="247.9" font-size="10.5" fill="#c0c0c0" textLength="27.5" lengthAdjust="spacingAndGlyphs">12.00</text>
<line x1="1136" y1="293.0" x2="1140" y2="293.0" stroke="#8c8c8c" stroke-width="1"/>
<text x="1144.5" y="297.7" font-size="10.5" fill="#c0c0c0" textLength="27.5" lengthAdjust="spacingAndGlyphs">11.76</text>
<line x1="1136" y1="342.7" x2="1140" y2="342.7" stroke="#8c8c8c" stroke-width="1"/>
<text x="1144.5" y="347.4" font-size="10.5" fill="#c0c0c0" textLength="27.5" lengthAdjust="spacingAndGlyphs">11.50</text>
<line x1="1136" y1="392.4" x2="1140" y2="392.4" stroke="#8c8c8c" stroke-width="1"/>
<text x="1144.5" y="397.1" font-size="10.5" fill="#c0c0c0" textLength="27.5" lengthAdjust="spacingAndGlyphs">11.26</text>
<line x1="1136" y1="442.2" x2="1140" y2="442.2" stroke="#8c8c8c" stroke-width="1"/>
<text x="1144.5" y="446.9" font-size="10.5" fill="#c0c0c0" textLength="27.5" lengthAdjust="spacingAndGlyphs">11.00</text>
</g>
<g clip-path="url(#cd)">
<line x1="1136" y1="451.5" x2="1140" y2="451.5" stroke="#8c8c8c" stroke-width="1"/>
<text x="1144.5" y="456.2" font-size="10.5" fill="#c0c0c0" textLength="39.8" lengthAdjust="spacingAndGlyphs">80.0000</text>
<line x1="1136" y1="488.6" x2="1140" y2="488.6" stroke="#8c8c8c" stroke-width="1"/>
<text x="1144.5" y="493.3" font-size="10.5" fill="#c0c0c0" textLength="39.8" lengthAdjust="spacingAndGlyphs">40.0000</text>
<line x1="1136" y1="526.2" x2="1140" y2="526.2" stroke="#8c8c8c" stroke-width="1"/>
<text x="1144.5" y="530.9" font-size="10.5" fill="#c0c0c0" textLength="33.7" lengthAdjust="spacingAndGlyphs">0.0000</text>
</g>
<line x1="1136" y1="555.2" x2="1140" y2="555.2" stroke="#8c8c8c" stroke-width="1"/>
<text x="1144.5" y="559.9" font-size="10.5" fill="#c0c0c0" textLength="21.4" lengthAdjust="spacingAndGlyphs">0.00</text>
<g clip-path="url(#cr)">
<line x1="1136" y1="619.6" x2="1140" y2="619.6" stroke="#8c8c8c" stroke-width="1"/>
<text x="1144.5" y="624.3" font-size="10.5" fill="#c0c0c0" textLength="27.5" lengthAdjust="spacingAndGlyphs">80.00</text>
<line x1="1136" y1="650.0" x2="1140" y2="650.0" stroke="#8c8c8c" stroke-width="1"/>
<text x="1144.5" y="654.7" font-size="10.5" fill="#c0c0c0" textLength="27.5" lengthAdjust="spacingAndGlyphs">40.00</text>
<line x1="1136" y1="680.7" x2="1140" y2="680.7" stroke="#8c8c8c" stroke-width="1"/>
<text x="1144.5" y="685.4" font-size="10.5" fill="#c0c0c0" textLength="21.4" lengthAdjust="spacingAndGlyphs">0.00</text>
</g>
<rect x="1135" y="96" width="46" height="17" fill="#53b987"/>
<line x1="1136" y1="104.5" x2="1140" y2="104.5" stroke="#fff" stroke-width="1"/>
<text x="1144.5" y="108.3" font-size="10.5" fill="#fff" textLength="27.5" lengthAdjust="spacingAndGlyphs">12.70</text>
<line x1="53.3" y1="685" x2="53.3" y2="688" stroke="#8c8c8c" stroke-width="1"/>
<text x="53.3" y="703.8" font-size="10.6" fill="#c0c0c0" text-anchor="middle">26</text>
<line x1="146.4" y1="685" x2="146.4" y2="688" stroke="#8c8c8c" stroke-width="1"/>
<text x="146.4" y="703.8" font-size="10.6" fill="#fff" font-weight="bold" text-anchor="middle">Out</text>
<line x1="282.2" y1="685" x2="282.2" y2="688" stroke="#8c8c8c" stroke-width="1"/>
<text x="282.2" y="703.8" font-size="10.6" fill="#c0c0c0" text-anchor="middle">7</text>
<line x1="359" y1="685" x2="359" y2="688" stroke="#8c8c8c" stroke-width="1"/>
<text x="359" y="703.8" font-size="10.6" fill="#c0c0c0" text-anchor="middle">12:00</text>
<line x1="441.6" y1="685" x2="441.6" y2="688" stroke="#8c8c8c" stroke-width="1"/>
<text x="441.6" y="703.8" font-size="10.6" fill="#c0c0c0" text-anchor="middle">14</text>
<line x1="522.7" y1="685" x2="522.7" y2="688" stroke="#8c8c8c" stroke-width="1"/>
<text x="522.7" y="703.8" font-size="10.6" fill="#c0c0c0" text-anchor="middle">12:00</text>
<line x1="615.6" y1="685" x2="615.6" y2="688" stroke="#8c8c8c" stroke-width="1"/>
<text x="615.6" y="703.8" font-size="10.6" fill="#c0c0c0" text-anchor="middle">21</text>
<line x1="693.5" y1="685" x2="693.5" y2="688" stroke="#8c8c8c" stroke-width="1"/>
<text x="693.5" y="703.8" font-size="10.6" fill="#c0c0c0" text-anchor="middle">12:00</text>
<line x1="778.5" y1="685" x2="778.5" y2="688" stroke="#8c8c8c" stroke-width="1"/>
<text x="778.5" y="703.8" font-size="10.6" fill="#c0c0c0" text-anchor="middle">28</text>
<line x1="915" y1="685" x2="915" y2="688" stroke="#8c8c8c" stroke-width="1"/>
<text x="915" y="703.8" font-size="10.6" fill="#fff" font-weight="bold" text-anchor="middle">Nov</text>
<line x1="1026.5" y1="685" x2="1026.5" y2="688" stroke="#8c8c8c" stroke-width="1"/>
<text x="1026.5" y="703.8" font-size="10.6" fill="#c0c0c0" text-anchor="middle">6</text>
<text y="16.5" font-size="12" fill="#000"><tspan x="6.2" textLength="88.0" lengthAdjust="spacingAndGlyphs" fill="#3db3e3">DocinhoTrader</tspan> <tspan x="98.1" textLength="53.4" lengthAdjust="spacingAndGlyphs">publicado</tspan> <tspan x="155.3" textLength="15.2" lengthAdjust="spacingAndGlyphs">no</tspan> <tspan x="172.6" textLength="102.3" lengthAdjust="spacingAndGlyphs">TradingView.com,</tspan> <tspan x="278.6" textLength="58.3" lengthAdjust="spacingAndGlyphs">Novembro</tspan> <tspan x="339.6" textLength="17.3" lengthAdjust="spacingAndGlyphs">04,</tspan> <tspan x="360.6" textLength="27.9" lengthAdjust="spacingAndGlyphs">2019</tspan> <tspan x="392.0" textLength="49.5" lengthAdjust="spacingAndGlyphs">19:33:20</tspan> <tspan x="444.6" textLength="19.5" lengthAdjust="spacingAndGlyphs">CET</tspan></text>
<text y="35.4" font-size="12" fill="#000"><tspan x="6.2" textLength="126.8" lengthAdjust="spacingAndGlyphs" font-weight="bold">EURONEXT_DLY:SEM,</tspan> <tspan x="136.3" textLength="13.2" lengthAdjust="spacingAndGlyphs" font-weight="bold">60</tspan> <tspan x="155.6" textLength="30.9" lengthAdjust="spacingAndGlyphs">12.70</tspan> <tspan x="189.6" textLength="25.9" lengthAdjust="spacingAndGlyphs">0.00</tspan> <tspan x="218.6" textLength="24.3" lengthAdjust="spacingAndGlyphs">(0%)</tspan> <tspan x="247.2" textLength="12.9" lengthAdjust="spacingAndGlyphs" font-weight="bold">O:</tspan> <tspan x="261.6" textLength="30.9" lengthAdjust="spacingAndGlyphs">12.64</tspan> <tspan x="297.2" textLength="12.3" lengthAdjust="spacingAndGlyphs" font-weight="bold">H:</tspan> <tspan x="311.2" textLength="31.3" lengthAdjust="spacingAndGlyphs">12.74</tspan> <tspan x="347.2" textLength="9.3" lengthAdjust="spacingAndGlyphs" font-weight="bold">L:</tspan> <tspan x="357.6" textLength="31.9" lengthAdjust="spacingAndGlyphs">12.64</tspan> <tspan x="394.1" textLength="10.4" lengthAdjust="spacingAndGlyphs" font-weight="bold">C:</tspan> <tspan x="406.6" textLength="31.4" lengthAdjust="spacingAndGlyphs">12.70</tspan></text>
<text y="735" font-size="12" fill="#000"><tspan x="5.9" textLength="35.9" lengthAdjust="spacingAndGlyphs">Criado</tspan> <tspan x="44.6" textLength="23.9" lengthAdjust="spacingAndGlyphs">com</tspan></text>
<text y="734.6" font-size="12.2" fill="#000"><tspan x="96.2" textLength="70.5" lengthAdjust="spacingAndGlyphs" fill="#3aa8e0">TradingView</tspan></text>
<g transform="translate(72,722.5)"><g fill="#5cc4e9"><circle cx="11.2" cy="5.1" r="5.1"/><circle cx="4.1" cy="9.8" r="4.1"/><circle cx="19" cy="9.3" r="4.6"/><rect x="4.1" y="6.5" width="14.9" height="7.4"/></g><polyline points="0.6,11.9 9.5,5.6 14.5,12 21.4,6.2" fill="none" stroke="#fff" stroke-width="1.5" stroke-linejoin="miter"/></g>
</svg></body></html>
